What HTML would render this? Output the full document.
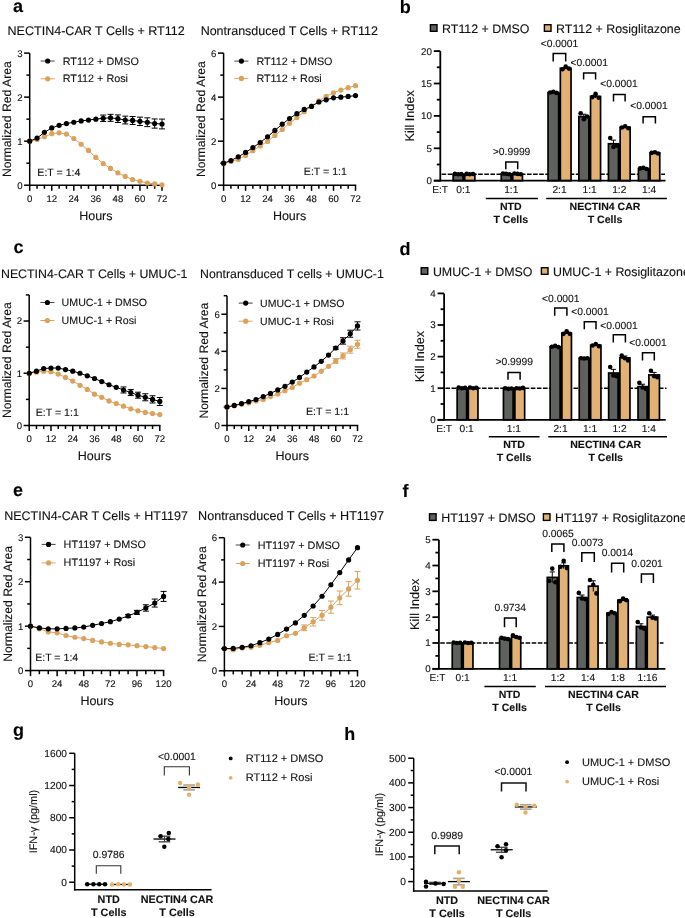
<!DOCTYPE html>
<html><head><meta charset="utf-8"><style>
html,body{margin:0;padding:0;background:#fff;}
svg{display:block;font-family:"Liberation Sans",sans-serif;text-rendering:geometricPrecision;}
text{stroke:#111;stroke-width:0.12px;paint-order:stroke;}
.l{will-change:transform;}
</style></head><body>
<svg class="l" width="685" height="918" viewBox="0 0 685 918">
<rect width="685" height="918" fill="#fff"/>
<text x="13" y="11.8" font-size="18" text-anchor="start" font-weight="bold" fill="#000">a</text>
<text x="399.8" y="13.4" font-size="18" text-anchor="start" font-weight="bold" fill="#000">b</text>
<text x="13.4" y="253.3" font-size="18" text-anchor="start" font-weight="bold" fill="#000">c</text>
<text x="399.6" y="254.8" font-size="18" text-anchor="start" font-weight="bold" fill="#000">d</text>
<text x="12.9" y="495.5" font-size="18" text-anchor="start" font-weight="bold" fill="#000">e</text>
<text x="402.6" y="497.2" font-size="18" text-anchor="start" font-weight="bold" fill="#000">f</text>
<text x="13" y="736" font-size="18" text-anchor="start" font-weight="bold" fill="#000">g</text>
<text x="344.3" y="740.1" font-size="18" text-anchor="start" font-weight="bold" fill="#000">h</text>
<text x="96.1" y="35" font-size="12.55" text-anchor="middle" fill="#111">NECTIN4-CAR T Cells + RT112</text>
<line x1="29.7" y1="53.1" x2="29.7" y2="185.95" stroke="#000" stroke-width="1.5"/>
<line x1="28.95" y1="185.2" x2="162.75" y2="185.2" stroke="#000" stroke-width="1.5"/>
<line x1="24.1" y1="185.2" x2="29.7" y2="185.2" stroke="#000" stroke-width="1.5"/>
<text x="22.5" y="188.6" font-size="9.6" text-anchor="end" fill="#111">0</text>
<line x1="26.4" y1="163.18" x2="29.7" y2="163.18" stroke="#000" stroke-width="1.5"/>
<line x1="24.1" y1="141.17" x2="29.7" y2="141.17" stroke="#000" stroke-width="1.5"/>
<text x="22.5" y="144.57" font-size="9.6" text-anchor="end" fill="#111">1</text>
<line x1="26.4" y1="119.15" x2="29.7" y2="119.15" stroke="#000" stroke-width="1.5"/>
<line x1="24.1" y1="97.13" x2="29.7" y2="97.13" stroke="#000" stroke-width="1.5"/>
<text x="22.5" y="100.53" font-size="9.6" text-anchor="end" fill="#111">2</text>
<line x1="26.4" y1="75.12" x2="29.7" y2="75.12" stroke="#000" stroke-width="1.5"/>
<line x1="24.1" y1="53.1" x2="29.7" y2="53.1" stroke="#000" stroke-width="1.5"/>
<text x="22.5" y="56.5" font-size="9.6" text-anchor="end" fill="#111">3</text>
<line x1="29.7" y1="185.2" x2="29.7" y2="190.8" stroke="#000" stroke-width="1.5"/>
<text x="29.7" y="201.8" font-size="9.6" text-anchor="middle" fill="#111">0</text>
<line x1="37.05" y1="185.2" x2="37.05" y2="188.8" stroke="#000" stroke-width="1.5"/>
<line x1="44.4" y1="185.2" x2="44.4" y2="188.8" stroke="#000" stroke-width="1.5"/>
<line x1="51.75" y1="185.2" x2="51.75" y2="190.8" stroke="#000" stroke-width="1.5"/>
<text x="51.75" y="201.8" font-size="9.6" text-anchor="middle" fill="#111">12</text>
<line x1="59.1" y1="185.2" x2="59.1" y2="188.8" stroke="#000" stroke-width="1.5"/>
<line x1="66.45" y1="185.2" x2="66.45" y2="188.8" stroke="#000" stroke-width="1.5"/>
<line x1="73.8" y1="185.2" x2="73.8" y2="190.8" stroke="#000" stroke-width="1.5"/>
<text x="73.8" y="201.8" font-size="9.6" text-anchor="middle" fill="#111">24</text>
<line x1="81.15" y1="185.2" x2="81.15" y2="188.8" stroke="#000" stroke-width="1.5"/>
<line x1="88.5" y1="185.2" x2="88.5" y2="188.8" stroke="#000" stroke-width="1.5"/>
<line x1="95.85" y1="185.2" x2="95.85" y2="190.8" stroke="#000" stroke-width="1.5"/>
<text x="95.85" y="201.8" font-size="9.6" text-anchor="middle" fill="#111">36</text>
<line x1="103.2" y1="185.2" x2="103.2" y2="188.8" stroke="#000" stroke-width="1.5"/>
<line x1="110.55" y1="185.2" x2="110.55" y2="188.8" stroke="#000" stroke-width="1.5"/>
<line x1="117.9" y1="185.2" x2="117.9" y2="190.8" stroke="#000" stroke-width="1.5"/>
<text x="117.9" y="201.8" font-size="9.6" text-anchor="middle" fill="#111">48</text>
<line x1="125.25" y1="185.2" x2="125.25" y2="188.8" stroke="#000" stroke-width="1.5"/>
<line x1="132.6" y1="185.2" x2="132.6" y2="188.8" stroke="#000" stroke-width="1.5"/>
<line x1="139.95" y1="185.2" x2="139.95" y2="190.8" stroke="#000" stroke-width="1.5"/>
<text x="139.95" y="201.8" font-size="9.6" text-anchor="middle" fill="#111">60</text>
<line x1="147.3" y1="185.2" x2="147.3" y2="188.8" stroke="#000" stroke-width="1.5"/>
<line x1="154.65" y1="185.2" x2="154.65" y2="188.8" stroke="#000" stroke-width="1.5"/>
<line x1="162" y1="185.2" x2="162" y2="190.8" stroke="#000" stroke-width="1.5"/>
<text x="162" y="201.8" font-size="9.6" text-anchor="middle" fill="#111">72</text>
<text transform="translate(10.9,119.15) rotate(-90)" font-size="12.2" text-anchor="middle" fill="#111">Normalized Red Area</text>
<text x="95.85" y="219.7" font-size="12.5" text-anchor="middle" fill="#111">Hours</text>
<text x="58.9" y="176.1" font-size="10.6" text-anchor="middle" fill="#111">E:T = 1:4</text>
<line x1="40.7" y1="61" x2="54.7" y2="61" stroke="#444" stroke-width="1"/>
<circle cx="47.7" cy="61" r="2.6" fill="#000"/>
<line x1="40.7" y1="78.8" x2="54.7" y2="78.8" stroke="#DCA15D" stroke-width="1"/>
<circle cx="47.7" cy="78.8" r="2.6" fill="#DCA15D"/>
<text x="62.7" y="64.7" font-size="10.8" text-anchor="start" fill="#111">RT112 + DMSO</text>
<text x="62.7" y="82.2" font-size="10.8" text-anchor="start" fill="#111">RT112 + Rosi</text>
<polyline fill="none" stroke="#DCA15D" stroke-width="1" points="29.7,141.17 37.05,139.41 44.4,136.76 51.75,133.68 59.1,132.8 66.45,134.12 73.8,138.52 81.15,144.25 88.5,150.41 95.85,157.46 103.2,163.62 110.55,168.47 117.9,172.87 125.25,176.39 132.6,179.48 139.95,181.24 147.3,183 154.65,183.88 162,184.76"/>
<circle cx="29.7" cy="141.17" r="2.6" fill="#DCA15D"/>
<circle cx="37.05" cy="139.41" r="2.6" fill="#DCA15D"/>
<circle cx="44.4" cy="136.76" r="2.6" fill="#DCA15D"/>
<circle cx="51.75" cy="133.68" r="2.6" fill="#DCA15D"/>
<circle cx="59.1" cy="132.8" r="2.6" fill="#DCA15D"/>
<circle cx="66.45" cy="134.12" r="2.6" fill="#DCA15D"/>
<circle cx="73.8" cy="138.52" r="2.6" fill="#DCA15D"/>
<circle cx="81.15" cy="144.25" r="2.6" fill="#DCA15D"/>
<circle cx="88.5" cy="150.41" r="2.6" fill="#DCA15D"/>
<circle cx="95.85" cy="157.46" r="2.6" fill="#DCA15D"/>
<circle cx="103.2" cy="163.62" r="2.6" fill="#DCA15D"/>
<circle cx="110.55" cy="168.47" r="2.6" fill="#DCA15D"/>
<circle cx="117.9" cy="172.87" r="2.6" fill="#DCA15D"/>
<circle cx="125.25" cy="176.39" r="2.6" fill="#DCA15D"/>
<circle cx="132.6" cy="179.48" r="2.6" fill="#DCA15D"/>
<circle cx="139.95" cy="181.24" r="2.6" fill="#DCA15D"/>
<circle cx="147.3" cy="183" r="2.6" fill="#DCA15D"/>
<circle cx="154.65" cy="183.88" r="2.6" fill="#DCA15D"/>
<circle cx="162" cy="184.76" r="2.6" fill="#DCA15D"/>
<polyline fill="none" stroke="#000" stroke-width="1" points="29.7,141.17 37.05,138.08 44.4,132.36 51.75,127.96 59.1,125.31 66.45,123.55 73.8,122.23 81.15,120.91 88.5,120.03 95.85,119.15 103.2,118.27 110.55,117.83 117.9,118.71 125.25,120.03 132.6,120.47 139.95,121.35 147.3,122.23 154.65,123.55 162,123.99"/>
<line x1="103.2" y1="115.07" x2="103.2" y2="121.47" stroke="#000" stroke-width="1"/>
<line x1="100.2" y1="115.07" x2="106.2" y2="115.07" stroke="#000" stroke-width="1"/>
<line x1="100.2" y1="121.47" x2="106.2" y2="121.47" stroke="#000" stroke-width="1"/>
<line x1="110.55" y1="114.33" x2="110.55" y2="121.33" stroke="#000" stroke-width="1"/>
<line x1="107.55" y1="114.33" x2="113.55" y2="114.33" stroke="#000" stroke-width="1"/>
<line x1="107.55" y1="121.33" x2="113.55" y2="121.33" stroke="#000" stroke-width="1"/>
<line x1="117.9" y1="114.91" x2="117.9" y2="122.51" stroke="#000" stroke-width="1"/>
<line x1="114.9" y1="114.91" x2="120.9" y2="114.91" stroke="#000" stroke-width="1"/>
<line x1="114.9" y1="122.51" x2="120.9" y2="122.51" stroke="#000" stroke-width="1"/>
<line x1="125.25" y1="116.13" x2="125.25" y2="123.93" stroke="#000" stroke-width="1"/>
<line x1="122.25" y1="116.13" x2="128.25" y2="116.13" stroke="#000" stroke-width="1"/>
<line x1="122.25" y1="123.93" x2="128.25" y2="123.93" stroke="#000" stroke-width="1"/>
<line x1="132.6" y1="116.47" x2="132.6" y2="124.47" stroke="#000" stroke-width="1"/>
<line x1="129.6" y1="116.47" x2="135.6" y2="116.47" stroke="#000" stroke-width="1"/>
<line x1="129.6" y1="124.47" x2="135.6" y2="124.47" stroke="#000" stroke-width="1"/>
<line x1="139.95" y1="117.15" x2="139.95" y2="125.55" stroke="#000" stroke-width="1"/>
<line x1="136.95" y1="117.15" x2="142.95" y2="117.15" stroke="#000" stroke-width="1"/>
<line x1="136.95" y1="125.55" x2="142.95" y2="125.55" stroke="#000" stroke-width="1"/>
<line x1="147.3" y1="117.83" x2="147.3" y2="126.63" stroke="#000" stroke-width="1"/>
<line x1="144.3" y1="117.83" x2="150.3" y2="117.83" stroke="#000" stroke-width="1"/>
<line x1="144.3" y1="126.63" x2="150.3" y2="126.63" stroke="#000" stroke-width="1"/>
<line x1="154.65" y1="118.95" x2="154.65" y2="128.15" stroke="#000" stroke-width="1"/>
<line x1="151.65" y1="118.95" x2="157.65" y2="118.95" stroke="#000" stroke-width="1"/>
<line x1="151.65" y1="128.15" x2="157.65" y2="128.15" stroke="#000" stroke-width="1"/>
<line x1="162" y1="119.09" x2="162" y2="128.89" stroke="#000" stroke-width="1"/>
<line x1="159" y1="119.09" x2="165" y2="119.09" stroke="#000" stroke-width="1"/>
<line x1="159" y1="128.89" x2="165" y2="128.89" stroke="#000" stroke-width="1"/>
<circle cx="29.7" cy="141.17" r="2.6" fill="#000"/>
<circle cx="37.05" cy="138.08" r="2.6" fill="#000"/>
<circle cx="44.4" cy="132.36" r="2.6" fill="#000"/>
<circle cx="51.75" cy="127.96" r="2.6" fill="#000"/>
<circle cx="59.1" cy="125.31" r="2.6" fill="#000"/>
<circle cx="66.45" cy="123.55" r="2.6" fill="#000"/>
<circle cx="73.8" cy="122.23" r="2.6" fill="#000"/>
<circle cx="81.15" cy="120.91" r="2.6" fill="#000"/>
<circle cx="88.5" cy="120.03" r="2.6" fill="#000"/>
<circle cx="95.85" cy="119.15" r="2.6" fill="#000"/>
<circle cx="103.2" cy="118.27" r="2.6" fill="#000"/>
<circle cx="110.55" cy="117.83" r="2.6" fill="#000"/>
<circle cx="117.9" cy="118.71" r="2.6" fill="#000"/>
<circle cx="125.25" cy="120.03" r="2.6" fill="#000"/>
<circle cx="132.6" cy="120.47" r="2.6" fill="#000"/>
<circle cx="139.95" cy="121.35" r="2.6" fill="#000"/>
<circle cx="147.3" cy="122.23" r="2.6" fill="#000"/>
<circle cx="154.65" cy="123.55" r="2.6" fill="#000"/>
<circle cx="162" cy="123.99" r="2.6" fill="#000"/>
<text x="289.3" y="35" font-size="12.5" text-anchor="middle" fill="#111">Nontransduced T Cells + RT112</text>
<line x1="223.6" y1="53.1" x2="223.6" y2="185.95" stroke="#000" stroke-width="1.5"/>
<line x1="222.85" y1="185.2" x2="356.25" y2="185.2" stroke="#000" stroke-width="1.5"/>
<line x1="218" y1="185.2" x2="223.6" y2="185.2" stroke="#000" stroke-width="1.5"/>
<text x="216.4" y="188.6" font-size="9.6" text-anchor="end" fill="#111">0</text>
<line x1="220.3" y1="163.18" x2="223.6" y2="163.18" stroke="#000" stroke-width="1.5"/>
<line x1="218" y1="141.17" x2="223.6" y2="141.17" stroke="#000" stroke-width="1.5"/>
<text x="216.4" y="144.57" font-size="9.6" text-anchor="end" fill="#111">2</text>
<line x1="220.3" y1="119.15" x2="223.6" y2="119.15" stroke="#000" stroke-width="1.5"/>
<line x1="218" y1="97.13" x2="223.6" y2="97.13" stroke="#000" stroke-width="1.5"/>
<text x="216.4" y="100.53" font-size="9.6" text-anchor="end" fill="#111">4</text>
<line x1="220.3" y1="75.12" x2="223.6" y2="75.12" stroke="#000" stroke-width="1.5"/>
<line x1="218" y1="53.1" x2="223.6" y2="53.1" stroke="#000" stroke-width="1.5"/>
<text x="216.4" y="56.5" font-size="9.6" text-anchor="end" fill="#111">6</text>
<line x1="223.6" y1="185.2" x2="223.6" y2="190.8" stroke="#000" stroke-width="1.5"/>
<text x="223.6" y="201.8" font-size="9.6" text-anchor="middle" fill="#111">0</text>
<line x1="230.93" y1="185.2" x2="230.93" y2="188.8" stroke="#000" stroke-width="1.5"/>
<line x1="238.26" y1="185.2" x2="238.26" y2="188.8" stroke="#000" stroke-width="1.5"/>
<line x1="245.58" y1="185.2" x2="245.58" y2="190.8" stroke="#000" stroke-width="1.5"/>
<text x="245.58" y="201.8" font-size="9.6" text-anchor="middle" fill="#111">12</text>
<line x1="252.91" y1="185.2" x2="252.91" y2="188.8" stroke="#000" stroke-width="1.5"/>
<line x1="260.24" y1="185.2" x2="260.24" y2="188.8" stroke="#000" stroke-width="1.5"/>
<line x1="267.57" y1="185.2" x2="267.57" y2="190.8" stroke="#000" stroke-width="1.5"/>
<text x="267.57" y="201.8" font-size="9.6" text-anchor="middle" fill="#111">24</text>
<line x1="274.89" y1="185.2" x2="274.89" y2="188.8" stroke="#000" stroke-width="1.5"/>
<line x1="282.22" y1="185.2" x2="282.22" y2="188.8" stroke="#000" stroke-width="1.5"/>
<line x1="289.55" y1="185.2" x2="289.55" y2="190.8" stroke="#000" stroke-width="1.5"/>
<text x="289.55" y="201.8" font-size="9.6" text-anchor="middle" fill="#111">36</text>
<line x1="296.88" y1="185.2" x2="296.88" y2="188.8" stroke="#000" stroke-width="1.5"/>
<line x1="304.21" y1="185.2" x2="304.21" y2="188.8" stroke="#000" stroke-width="1.5"/>
<line x1="311.53" y1="185.2" x2="311.53" y2="190.8" stroke="#000" stroke-width="1.5"/>
<text x="311.53" y="201.8" font-size="9.6" text-anchor="middle" fill="#111">48</text>
<line x1="318.86" y1="185.2" x2="318.86" y2="188.8" stroke="#000" stroke-width="1.5"/>
<line x1="326.19" y1="185.2" x2="326.19" y2="188.8" stroke="#000" stroke-width="1.5"/>
<line x1="333.52" y1="185.2" x2="333.52" y2="190.8" stroke="#000" stroke-width="1.5"/>
<text x="333.52" y="201.8" font-size="9.6" text-anchor="middle" fill="#111">60</text>
<line x1="340.84" y1="185.2" x2="340.84" y2="188.8" stroke="#000" stroke-width="1.5"/>
<line x1="348.17" y1="185.2" x2="348.17" y2="188.8" stroke="#000" stroke-width="1.5"/>
<line x1="355.5" y1="185.2" x2="355.5" y2="190.8" stroke="#000" stroke-width="1.5"/>
<text x="355.5" y="201.8" font-size="9.6" text-anchor="middle" fill="#111">72</text>
<text transform="translate(204.6,119.15) rotate(-90)" font-size="12.2" text-anchor="middle" fill="#111">Normalized Red Area</text>
<text x="289.55" y="219.7" font-size="12.5" text-anchor="middle" fill="#111">Hours</text>
<text x="325.4" y="175.3" font-size="10.6" text-anchor="middle" fill="#111">E:T = 1:1</text>
<line x1="234.4" y1="61.1" x2="248.4" y2="61.1" stroke="#444" stroke-width="1"/>
<circle cx="241.4" cy="61.1" r="2.6" fill="#000"/>
<line x1="234.4" y1="78.4" x2="248.4" y2="78.4" stroke="#DCA15D" stroke-width="1"/>
<circle cx="241.4" cy="78.4" r="2.6" fill="#DCA15D"/>
<text x="256.4" y="64.8" font-size="10.8" text-anchor="start" fill="#111">RT112 + DMSO</text>
<text x="256.4" y="81.8" font-size="10.8" text-anchor="start" fill="#111">RT112 + Rosi</text>
<polyline fill="none" stroke="#DCA15D" stroke-width="1" points="223.6,163.18 230.93,161.42 238.26,159.44 245.58,155.48 252.91,150.63 260.24,146.01 267.57,141.39 274.89,135.44 282.22,129.5 289.55,123.33 296.88,117.61 304.21,111.66 311.53,106.16 318.86,100.88 326.19,96.25 333.52,92.73 340.84,90.09 348.17,87.67 355.5,85.68"/>
<circle cx="223.6" cy="163.18" r="2.6" fill="#DCA15D"/>
<circle cx="230.93" cy="161.42" r="2.6" fill="#DCA15D"/>
<circle cx="238.26" cy="159.44" r="2.6" fill="#DCA15D"/>
<circle cx="245.58" cy="155.48" r="2.6" fill="#DCA15D"/>
<circle cx="252.91" cy="150.63" r="2.6" fill="#DCA15D"/>
<circle cx="260.24" cy="146.01" r="2.6" fill="#DCA15D"/>
<circle cx="267.57" cy="141.39" r="2.6" fill="#DCA15D"/>
<circle cx="274.89" cy="135.44" r="2.6" fill="#DCA15D"/>
<circle cx="282.22" cy="129.5" r="2.6" fill="#DCA15D"/>
<circle cx="289.55" cy="123.33" r="2.6" fill="#DCA15D"/>
<circle cx="296.88" cy="117.61" r="2.6" fill="#DCA15D"/>
<circle cx="304.21" cy="111.66" r="2.6" fill="#DCA15D"/>
<circle cx="311.53" cy="106.16" r="2.6" fill="#DCA15D"/>
<circle cx="318.86" cy="100.88" r="2.6" fill="#DCA15D"/>
<circle cx="326.19" cy="96.25" r="2.6" fill="#DCA15D"/>
<circle cx="333.52" cy="92.73" r="2.6" fill="#DCA15D"/>
<circle cx="340.84" cy="90.09" r="2.6" fill="#DCA15D"/>
<circle cx="348.17" cy="87.67" r="2.6" fill="#DCA15D"/>
<circle cx="355.5" cy="85.68" r="2.6" fill="#DCA15D"/>
<polyline fill="none" stroke="#000" stroke-width="1" points="223.6,163.18 230.93,160.54 238.26,156.8 245.58,152.4 252.91,147.55 260.24,142.49 267.57,136.76 274.89,130.38 282.22,124.21 289.55,118.49 296.88,113.65 304.21,109.46 311.53,106.38 318.86,101.98 326.19,99.78 333.52,97.79 340.84,97.13 348.17,96.47 355.5,95.59"/>
<circle cx="223.6" cy="163.18" r="2.6" fill="#000"/>
<circle cx="230.93" cy="160.54" r="2.6" fill="#000"/>
<circle cx="238.26" cy="156.8" r="2.6" fill="#000"/>
<circle cx="245.58" cy="152.4" r="2.6" fill="#000"/>
<circle cx="252.91" cy="147.55" r="2.6" fill="#000"/>
<circle cx="260.24" cy="142.49" r="2.6" fill="#000"/>
<circle cx="267.57" cy="136.76" r="2.6" fill="#000"/>
<circle cx="274.89" cy="130.38" r="2.6" fill="#000"/>
<circle cx="282.22" cy="124.21" r="2.6" fill="#000"/>
<circle cx="289.55" cy="118.49" r="2.6" fill="#000"/>
<circle cx="296.88" cy="113.65" r="2.6" fill="#000"/>
<circle cx="304.21" cy="109.46" r="2.6" fill="#000"/>
<circle cx="311.53" cy="106.38" r="2.6" fill="#000"/>
<circle cx="318.86" cy="101.98" r="2.6" fill="#000"/>
<circle cx="326.19" cy="99.78" r="2.6" fill="#000"/>
<circle cx="333.52" cy="97.79" r="2.6" fill="#000"/>
<circle cx="340.84" cy="97.13" r="2.6" fill="#000"/>
<circle cx="348.17" cy="96.47" r="2.6" fill="#000"/>
<circle cx="355.5" cy="95.59" r="2.6" fill="#000"/>
<text x="94.2" y="277.9" font-size="12.35" text-anchor="middle" fill="#111">NECTIN4-CAR T Cells + UMUC-1</text>
<line x1="29.2" y1="294.9" x2="29.2" y2="426.25" stroke="#000" stroke-width="1.5"/>
<line x1="28.45" y1="425.5" x2="160.55" y2="425.5" stroke="#000" stroke-width="1.5"/>
<line x1="23.6" y1="425.5" x2="29.2" y2="425.5" stroke="#000" stroke-width="1.5"/>
<text x="22" y="428.9" font-size="9.6" text-anchor="end" fill="#111">0</text>
<line x1="25.9" y1="399.38" x2="29.2" y2="399.38" stroke="#000" stroke-width="1.5"/>
<line x1="23.6" y1="373.26" x2="29.2" y2="373.26" stroke="#000" stroke-width="1.5"/>
<text x="22" y="376.66" font-size="9.6" text-anchor="end" fill="#111">1</text>
<line x1="25.9" y1="347.14" x2="29.2" y2="347.14" stroke="#000" stroke-width="1.5"/>
<line x1="23.6" y1="321.02" x2="29.2" y2="321.02" stroke="#000" stroke-width="1.5"/>
<text x="22" y="324.42" font-size="9.6" text-anchor="end" fill="#111">2</text>
<line x1="25.9" y1="294.9" x2="29.2" y2="294.9" stroke="#000" stroke-width="1.5"/>
<line x1="29.2" y1="425.5" x2="29.2" y2="431.1" stroke="#000" stroke-width="1.5"/>
<text x="29.2" y="442.1" font-size="9.6" text-anchor="middle" fill="#111">0</text>
<line x1="36.46" y1="425.5" x2="36.46" y2="429.1" stroke="#000" stroke-width="1.5"/>
<line x1="43.71" y1="425.5" x2="43.71" y2="429.1" stroke="#000" stroke-width="1.5"/>
<line x1="50.97" y1="425.5" x2="50.97" y2="431.1" stroke="#000" stroke-width="1.5"/>
<text x="50.97" y="442.1" font-size="9.6" text-anchor="middle" fill="#111">12</text>
<line x1="58.22" y1="425.5" x2="58.22" y2="429.1" stroke="#000" stroke-width="1.5"/>
<line x1="65.48" y1="425.5" x2="65.48" y2="429.1" stroke="#000" stroke-width="1.5"/>
<line x1="72.73" y1="425.5" x2="72.73" y2="431.1" stroke="#000" stroke-width="1.5"/>
<text x="72.73" y="442.1" font-size="9.6" text-anchor="middle" fill="#111">24</text>
<line x1="79.99" y1="425.5" x2="79.99" y2="429.1" stroke="#000" stroke-width="1.5"/>
<line x1="87.24" y1="425.5" x2="87.24" y2="429.1" stroke="#000" stroke-width="1.5"/>
<line x1="94.5" y1="425.5" x2="94.5" y2="431.1" stroke="#000" stroke-width="1.5"/>
<text x="94.5" y="442.1" font-size="9.6" text-anchor="middle" fill="#111">36</text>
<line x1="101.76" y1="425.5" x2="101.76" y2="429.1" stroke="#000" stroke-width="1.5"/>
<line x1="109.01" y1="425.5" x2="109.01" y2="429.1" stroke="#000" stroke-width="1.5"/>
<line x1="116.27" y1="425.5" x2="116.27" y2="431.1" stroke="#000" stroke-width="1.5"/>
<text x="116.27" y="442.1" font-size="9.6" text-anchor="middle" fill="#111">48</text>
<line x1="123.52" y1="425.5" x2="123.52" y2="429.1" stroke="#000" stroke-width="1.5"/>
<line x1="130.78" y1="425.5" x2="130.78" y2="429.1" stroke="#000" stroke-width="1.5"/>
<line x1="138.03" y1="425.5" x2="138.03" y2="431.1" stroke="#000" stroke-width="1.5"/>
<text x="138.03" y="442.1" font-size="9.6" text-anchor="middle" fill="#111">60</text>
<line x1="145.29" y1="425.5" x2="145.29" y2="429.1" stroke="#000" stroke-width="1.5"/>
<line x1="152.54" y1="425.5" x2="152.54" y2="429.1" stroke="#000" stroke-width="1.5"/>
<line x1="159.8" y1="425.5" x2="159.8" y2="431.1" stroke="#000" stroke-width="1.5"/>
<text x="159.8" y="442.1" font-size="9.6" text-anchor="middle" fill="#111">72</text>
<text transform="translate(10.9,360.2) rotate(-90)" font-size="12.2" text-anchor="middle" fill="#111">Normalized Red Area</text>
<text x="94.5" y="460" font-size="12.5" text-anchor="middle" fill="#111">Hours</text>
<text x="57.3" y="415.8" font-size="10.6" text-anchor="middle" fill="#111">E:T = 1:1</text>
<line x1="40.4" y1="302.5" x2="54.4" y2="302.5" stroke="#444" stroke-width="1"/>
<circle cx="47.4" cy="302.5" r="2.6" fill="#000"/>
<line x1="40.4" y1="320.5" x2="54.4" y2="320.5" stroke="#DCA15D" stroke-width="1"/>
<circle cx="47.4" cy="320.5" r="2.6" fill="#DCA15D"/>
<text x="61.6" y="306.2" font-size="10.65" text-anchor="start" fill="#111">UMUC-1 + DMSO</text>
<text x="61.6" y="323.9" font-size="10.65" text-anchor="start" fill="#111">UMUC-1 + Rosi</text>
<polyline fill="none" stroke="#DCA15D" stroke-width="1" points="29.2,373.26 36.46,372.22 43.71,371.17 50.97,371.69 58.22,374.04 65.48,377.44 72.73,381.1 79.99,385.28 87.24,389.45 94.5,394.16 101.76,397.29 109.01,400.95 116.27,403.56 123.52,406.17 130.78,408.78 138.03,410.87 145.29,412.44 152.54,413.48 159.8,414.53"/>
<circle cx="29.2" cy="373.26" r="2.6" fill="#DCA15D"/>
<circle cx="36.46" cy="372.22" r="2.6" fill="#DCA15D"/>
<circle cx="43.71" cy="371.17" r="2.6" fill="#DCA15D"/>
<circle cx="50.97" cy="371.69" r="2.6" fill="#DCA15D"/>
<circle cx="58.22" cy="374.04" r="2.6" fill="#DCA15D"/>
<circle cx="65.48" cy="377.44" r="2.6" fill="#DCA15D"/>
<circle cx="72.73" cy="381.1" r="2.6" fill="#DCA15D"/>
<circle cx="79.99" cy="385.28" r="2.6" fill="#DCA15D"/>
<circle cx="87.24" cy="389.45" r="2.6" fill="#DCA15D"/>
<circle cx="94.5" cy="394.16" r="2.6" fill="#DCA15D"/>
<circle cx="101.76" cy="397.29" r="2.6" fill="#DCA15D"/>
<circle cx="109.01" cy="400.95" r="2.6" fill="#DCA15D"/>
<circle cx="116.27" cy="403.56" r="2.6" fill="#DCA15D"/>
<circle cx="123.52" cy="406.17" r="2.6" fill="#DCA15D"/>
<circle cx="130.78" cy="408.78" r="2.6" fill="#DCA15D"/>
<circle cx="138.03" cy="410.87" r="2.6" fill="#DCA15D"/>
<circle cx="145.29" cy="412.44" r="2.6" fill="#DCA15D"/>
<circle cx="152.54" cy="413.48" r="2.6" fill="#DCA15D"/>
<circle cx="159.8" cy="414.53" r="2.6" fill="#DCA15D"/>
<polyline fill="none" stroke="#000" stroke-width="1" points="29.2,373.26 36.46,371.17 43.71,368.56 50.97,368.04 58.22,368.04 65.48,369.6 72.73,371.17 79.99,373.26 87.24,375.87 94.5,378.48 101.76,381.62 109.01,384.75 116.27,387.36 123.52,389.98 130.78,392.59 138.03,395.2 145.29,397.29 152.54,399.38 159.8,401.47"/>
<line x1="123.52" y1="386.98" x2="123.52" y2="392.98" stroke="#000" stroke-width="1"/>
<line x1="120.52" y1="386.98" x2="126.52" y2="386.98" stroke="#000" stroke-width="1"/>
<line x1="120.52" y1="392.98" x2="126.52" y2="392.98" stroke="#000" stroke-width="1"/>
<line x1="130.78" y1="389.59" x2="130.78" y2="395.59" stroke="#000" stroke-width="1"/>
<line x1="127.78" y1="389.59" x2="133.78" y2="389.59" stroke="#000" stroke-width="1"/>
<line x1="127.78" y1="395.59" x2="133.78" y2="395.59" stroke="#000" stroke-width="1"/>
<line x1="138.03" y1="392.2" x2="138.03" y2="398.2" stroke="#000" stroke-width="1"/>
<line x1="135.03" y1="392.2" x2="141.03" y2="392.2" stroke="#000" stroke-width="1"/>
<line x1="135.03" y1="398.2" x2="141.03" y2="398.2" stroke="#000" stroke-width="1"/>
<line x1="145.29" y1="393.79" x2="145.29" y2="400.79" stroke="#000" stroke-width="1"/>
<line x1="142.29" y1="393.79" x2="148.29" y2="393.79" stroke="#000" stroke-width="1"/>
<line x1="142.29" y1="400.79" x2="148.29" y2="400.79" stroke="#000" stroke-width="1"/>
<line x1="152.54" y1="395.78" x2="152.54" y2="402.98" stroke="#000" stroke-width="1"/>
<line x1="149.54" y1="395.78" x2="155.54" y2="395.78" stroke="#000" stroke-width="1"/>
<line x1="149.54" y1="402.98" x2="155.54" y2="402.98" stroke="#000" stroke-width="1"/>
<line x1="159.8" y1="397.47" x2="159.8" y2="405.47" stroke="#000" stroke-width="1"/>
<line x1="156.8" y1="397.47" x2="162.8" y2="397.47" stroke="#000" stroke-width="1"/>
<line x1="156.8" y1="405.47" x2="162.8" y2="405.47" stroke="#000" stroke-width="1"/>
<circle cx="29.2" cy="373.26" r="2.6" fill="#000"/>
<circle cx="36.46" cy="371.17" r="2.6" fill="#000"/>
<circle cx="43.71" cy="368.56" r="2.6" fill="#000"/>
<circle cx="50.97" cy="368.04" r="2.6" fill="#000"/>
<circle cx="58.22" cy="368.04" r="2.6" fill="#000"/>
<circle cx="65.48" cy="369.6" r="2.6" fill="#000"/>
<circle cx="72.73" cy="371.17" r="2.6" fill="#000"/>
<circle cx="79.99" cy="373.26" r="2.6" fill="#000"/>
<circle cx="87.24" cy="375.87" r="2.6" fill="#000"/>
<circle cx="94.5" cy="378.48" r="2.6" fill="#000"/>
<circle cx="101.76" cy="381.62" r="2.6" fill="#000"/>
<circle cx="109.01" cy="384.75" r="2.6" fill="#000"/>
<circle cx="116.27" cy="387.36" r="2.6" fill="#000"/>
<circle cx="123.52" cy="389.98" r="2.6" fill="#000"/>
<circle cx="130.78" cy="392.59" r="2.6" fill="#000"/>
<circle cx="138.03" cy="395.2" r="2.6" fill="#000"/>
<circle cx="145.29" cy="397.29" r="2.6" fill="#000"/>
<circle cx="152.54" cy="399.38" r="2.6" fill="#000"/>
<circle cx="159.8" cy="401.47" r="2.6" fill="#000"/>
<text x="291.9" y="277.9" font-size="12.3" text-anchor="middle" fill="#111">Nontransduced T cells + UMUC-1</text>
<line x1="227" y1="295.7" x2="227" y2="426.25" stroke="#000" stroke-width="1.5"/>
<line x1="226.25" y1="425.5" x2="358.25" y2="425.5" stroke="#000" stroke-width="1.5"/>
<line x1="221.4" y1="425.5" x2="227" y2="425.5" stroke="#000" stroke-width="1.5"/>
<text x="219.8" y="428.9" font-size="9.6" text-anchor="end" fill="#111">0</text>
<line x1="223.7" y1="406.96" x2="227" y2="406.96" stroke="#000" stroke-width="1.5"/>
<line x1="221.4" y1="388.41" x2="227" y2="388.41" stroke="#000" stroke-width="1.5"/>
<text x="219.8" y="391.81" font-size="9.6" text-anchor="end" fill="#111">2</text>
<line x1="223.7" y1="369.87" x2="227" y2="369.87" stroke="#000" stroke-width="1.5"/>
<line x1="221.4" y1="351.33" x2="227" y2="351.33" stroke="#000" stroke-width="1.5"/>
<text x="219.8" y="354.73" font-size="9.6" text-anchor="end" fill="#111">4</text>
<line x1="223.7" y1="332.79" x2="227" y2="332.79" stroke="#000" stroke-width="1.5"/>
<line x1="221.4" y1="314.24" x2="227" y2="314.24" stroke="#000" stroke-width="1.5"/>
<text x="219.8" y="317.64" font-size="9.6" text-anchor="end" fill="#111">6</text>
<line x1="223.7" y1="295.7" x2="227" y2="295.7" stroke="#000" stroke-width="1.5"/>
<line x1="227" y1="425.5" x2="227" y2="431.1" stroke="#000" stroke-width="1.5"/>
<text x="227" y="442.1" font-size="9.6" text-anchor="middle" fill="#111">0</text>
<line x1="234.25" y1="425.5" x2="234.25" y2="429.1" stroke="#000" stroke-width="1.5"/>
<line x1="241.5" y1="425.5" x2="241.5" y2="429.1" stroke="#000" stroke-width="1.5"/>
<line x1="248.75" y1="425.5" x2="248.75" y2="431.1" stroke="#000" stroke-width="1.5"/>
<text x="248.75" y="442.1" font-size="9.6" text-anchor="middle" fill="#111">12</text>
<line x1="256" y1="425.5" x2="256" y2="429.1" stroke="#000" stroke-width="1.5"/>
<line x1="263.25" y1="425.5" x2="263.25" y2="429.1" stroke="#000" stroke-width="1.5"/>
<line x1="270.5" y1="425.5" x2="270.5" y2="431.1" stroke="#000" stroke-width="1.5"/>
<text x="270.5" y="442.1" font-size="9.6" text-anchor="middle" fill="#111">24</text>
<line x1="277.75" y1="425.5" x2="277.75" y2="429.1" stroke="#000" stroke-width="1.5"/>
<line x1="285" y1="425.5" x2="285" y2="429.1" stroke="#000" stroke-width="1.5"/>
<line x1="292.25" y1="425.5" x2="292.25" y2="431.1" stroke="#000" stroke-width="1.5"/>
<text x="292.25" y="442.1" font-size="9.6" text-anchor="middle" fill="#111">36</text>
<line x1="299.5" y1="425.5" x2="299.5" y2="429.1" stroke="#000" stroke-width="1.5"/>
<line x1="306.75" y1="425.5" x2="306.75" y2="429.1" stroke="#000" stroke-width="1.5"/>
<line x1="314" y1="425.5" x2="314" y2="431.1" stroke="#000" stroke-width="1.5"/>
<text x="314" y="442.1" font-size="9.6" text-anchor="middle" fill="#111">48</text>
<line x1="321.25" y1="425.5" x2="321.25" y2="429.1" stroke="#000" stroke-width="1.5"/>
<line x1="328.5" y1="425.5" x2="328.5" y2="429.1" stroke="#000" stroke-width="1.5"/>
<line x1="335.75" y1="425.5" x2="335.75" y2="431.1" stroke="#000" stroke-width="1.5"/>
<text x="335.75" y="442.1" font-size="9.6" text-anchor="middle" fill="#111">60</text>
<line x1="343" y1="425.5" x2="343" y2="429.1" stroke="#000" stroke-width="1.5"/>
<line x1="350.25" y1="425.5" x2="350.25" y2="429.1" stroke="#000" stroke-width="1.5"/>
<line x1="357.5" y1="425.5" x2="357.5" y2="431.1" stroke="#000" stroke-width="1.5"/>
<text x="357.5" y="442.1" font-size="9.6" text-anchor="middle" fill="#111">72</text>
<text transform="translate(208.4,360.6) rotate(-90)" font-size="12.2" text-anchor="middle" fill="#111">Normalized Red Area</text>
<text x="292.25" y="460" font-size="12.5" text-anchor="middle" fill="#111">Hours</text>
<text x="327.5" y="415.2" font-size="10.6" text-anchor="middle" fill="#111">E:T = 1:1</text>
<line x1="238.7" y1="303.1" x2="252.7" y2="303.1" stroke="#444" stroke-width="1"/>
<circle cx="245.7" cy="303.1" r="2.6" fill="#000"/>
<line x1="238.7" y1="321.2" x2="252.7" y2="321.2" stroke="#DCA15D" stroke-width="1"/>
<circle cx="245.7" cy="321.2" r="2.6" fill="#DCA15D"/>
<text x="260.1" y="306.8" font-size="10.5" text-anchor="start" fill="#111">UMUC-1 + DMSO</text>
<text x="260.1" y="324.6" font-size="10.5" text-anchor="start" fill="#111">UMUC-1 + Rosi</text>
<polyline fill="none" stroke="#DCA15D" stroke-width="1" points="227,406.96 234.25,405.84 241.5,404.36 248.75,402.88 256,401.02 263.25,399.54 270.5,396.57 277.75,393.98 285,390.64 292.25,387.49 299.5,383.22 306.75,379.7 314,375.99 321.25,371.35 328.5,366.35 335.75,360.97 343,355.96 350.25,349.66 357.5,344.28"/>
<line x1="335.75" y1="358.67" x2="335.75" y2="363.27" stroke="#DCA15D" stroke-width="1"/>
<line x1="332.75" y1="358.67" x2="338.75" y2="358.67" stroke="#DCA15D" stroke-width="1"/>
<line x1="332.75" y1="363.27" x2="338.75" y2="363.27" stroke="#DCA15D" stroke-width="1"/>
<line x1="343" y1="352.96" x2="343" y2="358.96" stroke="#DCA15D" stroke-width="1"/>
<line x1="340" y1="352.96" x2="346" y2="352.96" stroke="#DCA15D" stroke-width="1"/>
<line x1="340" y1="358.96" x2="346" y2="358.96" stroke="#DCA15D" stroke-width="1"/>
<line x1="350.25" y1="346.16" x2="350.25" y2="353.16" stroke="#DCA15D" stroke-width="1"/>
<line x1="347.25" y1="346.16" x2="353.25" y2="346.16" stroke="#DCA15D" stroke-width="1"/>
<line x1="347.25" y1="353.16" x2="353.25" y2="353.16" stroke="#DCA15D" stroke-width="1"/>
<line x1="357.5" y1="340.28" x2="357.5" y2="348.28" stroke="#DCA15D" stroke-width="1"/>
<line x1="354.5" y1="340.28" x2="360.5" y2="340.28" stroke="#DCA15D" stroke-width="1"/>
<line x1="354.5" y1="348.28" x2="360.5" y2="348.28" stroke="#DCA15D" stroke-width="1"/>
<circle cx="227" cy="406.96" r="2.6" fill="#DCA15D"/>
<circle cx="234.25" cy="405.84" r="2.6" fill="#DCA15D"/>
<circle cx="241.5" cy="404.36" r="2.6" fill="#DCA15D"/>
<circle cx="248.75" cy="402.88" r="2.6" fill="#DCA15D"/>
<circle cx="256" cy="401.02" r="2.6" fill="#DCA15D"/>
<circle cx="263.25" cy="399.54" r="2.6" fill="#DCA15D"/>
<circle cx="270.5" cy="396.57" r="2.6" fill="#DCA15D"/>
<circle cx="277.75" cy="393.98" r="2.6" fill="#DCA15D"/>
<circle cx="285" cy="390.64" r="2.6" fill="#DCA15D"/>
<circle cx="292.25" cy="387.49" r="2.6" fill="#DCA15D"/>
<circle cx="299.5" cy="383.22" r="2.6" fill="#DCA15D"/>
<circle cx="306.75" cy="379.7" r="2.6" fill="#DCA15D"/>
<circle cx="314" cy="375.99" r="2.6" fill="#DCA15D"/>
<circle cx="321.25" cy="371.35" r="2.6" fill="#DCA15D"/>
<circle cx="328.5" cy="366.35" r="2.6" fill="#DCA15D"/>
<circle cx="335.75" cy="360.97" r="2.6" fill="#DCA15D"/>
<circle cx="343" cy="355.96" r="2.6" fill="#DCA15D"/>
<circle cx="350.25" cy="349.66" r="2.6" fill="#DCA15D"/>
<circle cx="357.5" cy="344.28" r="2.6" fill="#DCA15D"/>
<polyline fill="none" stroke="#000" stroke-width="1" points="227,406.96 234.25,405.47 241.5,403.62 248.75,401.58 256,399.54 263.25,396.57 270.5,393.42 277.75,389.9 285,386.37 292.25,382.11 299.5,377.47 306.75,372.1 314,366.9 321.25,361.34 328.5,355.04 335.75,347.99 343,340.94 350.25,333.71 357.5,325.92"/>
<line x1="335.75" y1="346.79" x2="335.75" y2="349.19" stroke="#000" stroke-width="1"/>
<line x1="332.75" y1="346.79" x2="338.75" y2="346.79" stroke="#000" stroke-width="1"/>
<line x1="332.75" y1="349.19" x2="338.75" y2="349.19" stroke="#000" stroke-width="1"/>
<line x1="343" y1="337.74" x2="343" y2="344.14" stroke="#000" stroke-width="1"/>
<line x1="340" y1="337.74" x2="346" y2="337.74" stroke="#000" stroke-width="1"/>
<line x1="340" y1="344.14" x2="346" y2="344.14" stroke="#000" stroke-width="1"/>
<line x1="350.25" y1="330.21" x2="350.25" y2="337.21" stroke="#000" stroke-width="1"/>
<line x1="347.25" y1="330.21" x2="353.25" y2="330.21" stroke="#000" stroke-width="1"/>
<line x1="347.25" y1="337.21" x2="353.25" y2="337.21" stroke="#000" stroke-width="1"/>
<line x1="357.5" y1="321.82" x2="357.5" y2="330.02" stroke="#000" stroke-width="1"/>
<line x1="354.5" y1="321.82" x2="360.5" y2="321.82" stroke="#000" stroke-width="1"/>
<line x1="354.5" y1="330.02" x2="360.5" y2="330.02" stroke="#000" stroke-width="1"/>
<circle cx="227" cy="406.96" r="2.6" fill="#000"/>
<circle cx="234.25" cy="405.47" r="2.6" fill="#000"/>
<circle cx="241.5" cy="403.62" r="2.6" fill="#000"/>
<circle cx="248.75" cy="401.58" r="2.6" fill="#000"/>
<circle cx="256" cy="399.54" r="2.6" fill="#000"/>
<circle cx="263.25" cy="396.57" r="2.6" fill="#000"/>
<circle cx="270.5" cy="393.42" r="2.6" fill="#000"/>
<circle cx="277.75" cy="389.9" r="2.6" fill="#000"/>
<circle cx="285" cy="386.37" r="2.6" fill="#000"/>
<circle cx="292.25" cy="382.11" r="2.6" fill="#000"/>
<circle cx="299.5" cy="377.47" r="2.6" fill="#000"/>
<circle cx="306.75" cy="372.1" r="2.6" fill="#000"/>
<circle cx="314" cy="366.9" r="2.6" fill="#000"/>
<circle cx="321.25" cy="361.34" r="2.6" fill="#000"/>
<circle cx="328.5" cy="355.04" r="2.6" fill="#000"/>
<circle cx="335.75" cy="347.99" r="2.6" fill="#000"/>
<circle cx="343" cy="340.94" r="2.6" fill="#000"/>
<circle cx="350.25" cy="333.71" r="2.6" fill="#000"/>
<circle cx="357.5" cy="325.92" r="2.6" fill="#000"/>
<text x="96" y="520.1" font-size="12.5" text-anchor="middle" fill="#111">NECTIN4-CAR T Cells + HT1197</text>
<line x1="30.5" y1="537.3" x2="30.5" y2="671.35" stroke="#000" stroke-width="1.5"/>
<line x1="29.75" y1="670.6" x2="164.35" y2="670.6" stroke="#000" stroke-width="1.5"/>
<line x1="24.9" y1="670.6" x2="30.5" y2="670.6" stroke="#000" stroke-width="1.5"/>
<text x="23.3" y="674" font-size="9.6" text-anchor="end" fill="#111">0</text>
<line x1="27.2" y1="648.38" x2="30.5" y2="648.38" stroke="#000" stroke-width="1.5"/>
<line x1="24.9" y1="626.17" x2="30.5" y2="626.17" stroke="#000" stroke-width="1.5"/>
<text x="23.3" y="629.57" font-size="9.6" text-anchor="end" fill="#111">1</text>
<line x1="27.2" y1="603.95" x2="30.5" y2="603.95" stroke="#000" stroke-width="1.5"/>
<line x1="24.9" y1="581.73" x2="30.5" y2="581.73" stroke="#000" stroke-width="1.5"/>
<text x="23.3" y="585.13" font-size="9.6" text-anchor="end" fill="#111">2</text>
<line x1="27.2" y1="559.52" x2="30.5" y2="559.52" stroke="#000" stroke-width="1.5"/>
<line x1="24.9" y1="537.3" x2="30.5" y2="537.3" stroke="#000" stroke-width="1.5"/>
<text x="23.3" y="540.7" font-size="9.6" text-anchor="end" fill="#111">3</text>
<line x1="30.5" y1="670.6" x2="30.5" y2="676.2" stroke="#000" stroke-width="1.5"/>
<text x="30.5" y="687.2" font-size="9.6" text-anchor="middle" fill="#111">0</text>
<line x1="39.37" y1="670.6" x2="39.37" y2="674.2" stroke="#000" stroke-width="1.5"/>
<line x1="48.25" y1="670.6" x2="48.25" y2="674.2" stroke="#000" stroke-width="1.5"/>
<line x1="57.12" y1="670.6" x2="57.12" y2="676.2" stroke="#000" stroke-width="1.5"/>
<text x="57.12" y="687.2" font-size="9.6" text-anchor="middle" fill="#111">24</text>
<line x1="65.99" y1="670.6" x2="65.99" y2="674.2" stroke="#000" stroke-width="1.5"/>
<line x1="74.87" y1="670.6" x2="74.87" y2="674.2" stroke="#000" stroke-width="1.5"/>
<line x1="83.74" y1="670.6" x2="83.74" y2="676.2" stroke="#000" stroke-width="1.5"/>
<text x="83.74" y="687.2" font-size="9.6" text-anchor="middle" fill="#111">48</text>
<line x1="92.61" y1="670.6" x2="92.61" y2="674.2" stroke="#000" stroke-width="1.5"/>
<line x1="101.49" y1="670.6" x2="101.49" y2="674.2" stroke="#000" stroke-width="1.5"/>
<line x1="110.36" y1="670.6" x2="110.36" y2="676.2" stroke="#000" stroke-width="1.5"/>
<text x="110.36" y="687.2" font-size="9.6" text-anchor="middle" fill="#111">72</text>
<line x1="119.23" y1="670.6" x2="119.23" y2="674.2" stroke="#000" stroke-width="1.5"/>
<line x1="128.11" y1="670.6" x2="128.11" y2="674.2" stroke="#000" stroke-width="1.5"/>
<line x1="136.98" y1="670.6" x2="136.98" y2="676.2" stroke="#000" stroke-width="1.5"/>
<text x="136.98" y="687.2" font-size="9.6" text-anchor="middle" fill="#111">96</text>
<line x1="145.85" y1="670.6" x2="145.85" y2="674.2" stroke="#000" stroke-width="1.5"/>
<line x1="154.73" y1="670.6" x2="154.73" y2="674.2" stroke="#000" stroke-width="1.5"/>
<line x1="163.6" y1="670.6" x2="163.6" y2="676.2" stroke="#000" stroke-width="1.5"/>
<text x="163.6" y="687.2" font-size="9.6" text-anchor="middle" fill="#111">120</text>
<text transform="translate(11.7,603.95) rotate(-90)" font-size="12.2" text-anchor="middle" fill="#111">Normalized Red Area</text>
<text x="97.05" y="705.1" font-size="12.5" text-anchor="middle" fill="#111">Hours</text>
<text x="56.7" y="661" font-size="10.6" text-anchor="middle" fill="#111">E:T = 1:4</text>
<line x1="41.6" y1="544.4" x2="55.6" y2="544.4" stroke="#444" stroke-width="1"/>
<circle cx="48.6" cy="544.4" r="2.6" fill="#000"/>
<line x1="41.6" y1="562.9" x2="55.6" y2="562.9" stroke="#DCA15D" stroke-width="1"/>
<circle cx="48.6" cy="562.9" r="2.6" fill="#DCA15D"/>
<text x="63.6" y="548.1" font-size="10.8" text-anchor="start" fill="#111">HT1197 + DMSO</text>
<text x="63.6" y="566.3" font-size="10.8" text-anchor="start" fill="#111">HT1197 + Rosi</text>
<polyline fill="none" stroke="#DCA15D" stroke-width="1" points="30.5,626.17 39.37,628.83 48.25,631.94 57.12,632.83 65.99,635.5 74.87,637.27 83.74,638.61 92.61,640.39 101.49,641.94 110.36,643.27 119.23,644.38 128.11,644.83 136.98,645.72 145.85,646.61 154.73,647.49 163.6,648.61"/>
<circle cx="30.5" cy="626.17" r="2.6" fill="#DCA15D"/>
<circle cx="39.37" cy="628.83" r="2.6" fill="#DCA15D"/>
<circle cx="48.25" cy="631.94" r="2.6" fill="#DCA15D"/>
<circle cx="57.12" cy="632.83" r="2.6" fill="#DCA15D"/>
<circle cx="65.99" cy="635.5" r="2.6" fill="#DCA15D"/>
<circle cx="74.87" cy="637.27" r="2.6" fill="#DCA15D"/>
<circle cx="83.74" cy="638.61" r="2.6" fill="#DCA15D"/>
<circle cx="92.61" cy="640.39" r="2.6" fill="#DCA15D"/>
<circle cx="101.49" cy="641.94" r="2.6" fill="#DCA15D"/>
<circle cx="110.36" cy="643.27" r="2.6" fill="#DCA15D"/>
<circle cx="119.23" cy="644.38" r="2.6" fill="#DCA15D"/>
<circle cx="128.11" cy="644.83" r="2.6" fill="#DCA15D"/>
<circle cx="136.98" cy="645.72" r="2.6" fill="#DCA15D"/>
<circle cx="145.85" cy="646.61" r="2.6" fill="#DCA15D"/>
<circle cx="154.73" cy="647.49" r="2.6" fill="#DCA15D"/>
<circle cx="163.6" cy="648.61" r="2.6" fill="#DCA15D"/>
<polyline fill="none" stroke="#000" stroke-width="1" points="30.5,626.17 39.37,627.94 48.25,628.83 57.12,628.83 65.99,628.39 74.87,627.94 83.74,627.06 92.61,625.28 101.49,623.5 110.36,621.72 119.23,619.06 128.11,615.95 136.98,612.39 145.85,607.95 154.73,603.06 163.6,596.4"/>
<line x1="128.11" y1="614.45" x2="128.11" y2="617.45" stroke="#000" stroke-width="1"/>
<line x1="125.11" y1="614.45" x2="131.11" y2="614.45" stroke="#000" stroke-width="1"/>
<line x1="125.11" y1="617.45" x2="131.11" y2="617.45" stroke="#000" stroke-width="1"/>
<line x1="136.98" y1="610.39" x2="136.98" y2="614.39" stroke="#000" stroke-width="1"/>
<line x1="133.98" y1="610.39" x2="139.98" y2="610.39" stroke="#000" stroke-width="1"/>
<line x1="133.98" y1="614.39" x2="139.98" y2="614.39" stroke="#000" stroke-width="1"/>
<line x1="145.85" y1="604.75" x2="145.85" y2="611.15" stroke="#000" stroke-width="1"/>
<line x1="142.85" y1="604.75" x2="148.85" y2="604.75" stroke="#000" stroke-width="1"/>
<line x1="142.85" y1="611.15" x2="148.85" y2="611.15" stroke="#000" stroke-width="1"/>
<line x1="154.73" y1="599.06" x2="154.73" y2="607.06" stroke="#000" stroke-width="1"/>
<line x1="151.73" y1="599.06" x2="157.73" y2="599.06" stroke="#000" stroke-width="1"/>
<line x1="151.73" y1="607.06" x2="157.73" y2="607.06" stroke="#000" stroke-width="1"/>
<line x1="163.6" y1="591.4" x2="163.6" y2="601.4" stroke="#000" stroke-width="1"/>
<line x1="160.6" y1="591.4" x2="166.6" y2="591.4" stroke="#000" stroke-width="1"/>
<line x1="160.6" y1="601.4" x2="166.6" y2="601.4" stroke="#000" stroke-width="1"/>
<circle cx="30.5" cy="626.17" r="2.6" fill="#000"/>
<circle cx="39.37" cy="627.94" r="2.6" fill="#000"/>
<circle cx="48.25" cy="628.83" r="2.6" fill="#000"/>
<circle cx="57.12" cy="628.83" r="2.6" fill="#000"/>
<circle cx="65.99" cy="628.39" r="2.6" fill="#000"/>
<circle cx="74.87" cy="627.94" r="2.6" fill="#000"/>
<circle cx="83.74" cy="627.06" r="2.6" fill="#000"/>
<circle cx="92.61" cy="625.28" r="2.6" fill="#000"/>
<circle cx="101.49" cy="623.5" r="2.6" fill="#000"/>
<circle cx="110.36" cy="621.72" r="2.6" fill="#000"/>
<circle cx="119.23" cy="619.06" r="2.6" fill="#000"/>
<circle cx="128.11" cy="615.95" r="2.6" fill="#000"/>
<circle cx="136.98" cy="612.39" r="2.6" fill="#000"/>
<circle cx="145.85" cy="607.95" r="2.6" fill="#000"/>
<circle cx="154.73" cy="603.06" r="2.6" fill="#000"/>
<circle cx="163.6" cy="596.4" r="2.6" fill="#000"/>
<text x="291" y="519.6" font-size="12.6" text-anchor="middle" fill="#111">Nontransduced T Cells + HT1197</text>
<line x1="224.4" y1="537.7" x2="224.4" y2="671.55" stroke="#000" stroke-width="1.5"/>
<line x1="223.65" y1="670.8" x2="358.25" y2="670.8" stroke="#000" stroke-width="1.5"/>
<line x1="218.8" y1="670.8" x2="224.4" y2="670.8" stroke="#000" stroke-width="1.5"/>
<text x="217.2" y="674.2" font-size="9.6" text-anchor="end" fill="#111">0</text>
<line x1="221.1" y1="648.62" x2="224.4" y2="648.62" stroke="#000" stroke-width="1.5"/>
<line x1="218.8" y1="626.43" x2="224.4" y2="626.43" stroke="#000" stroke-width="1.5"/>
<text x="217.2" y="629.83" font-size="9.6" text-anchor="end" fill="#111">2</text>
<line x1="221.1" y1="604.25" x2="224.4" y2="604.25" stroke="#000" stroke-width="1.5"/>
<line x1="218.8" y1="582.07" x2="224.4" y2="582.07" stroke="#000" stroke-width="1.5"/>
<text x="217.2" y="585.47" font-size="9.6" text-anchor="end" fill="#111">4</text>
<line x1="221.1" y1="559.88" x2="224.4" y2="559.88" stroke="#000" stroke-width="1.5"/>
<line x1="218.8" y1="537.7" x2="224.4" y2="537.7" stroke="#000" stroke-width="1.5"/>
<text x="217.2" y="541.1" font-size="9.6" text-anchor="end" fill="#111">6</text>
<line x1="224.4" y1="670.8" x2="224.4" y2="676.4" stroke="#000" stroke-width="1.5"/>
<text x="224.4" y="687.4" font-size="9.6" text-anchor="middle" fill="#111">0</text>
<line x1="233.27" y1="670.8" x2="233.27" y2="674.4" stroke="#000" stroke-width="1.5"/>
<line x1="242.15" y1="670.8" x2="242.15" y2="674.4" stroke="#000" stroke-width="1.5"/>
<line x1="251.02" y1="670.8" x2="251.02" y2="676.4" stroke="#000" stroke-width="1.5"/>
<text x="251.02" y="687.4" font-size="9.6" text-anchor="middle" fill="#111">24</text>
<line x1="259.89" y1="670.8" x2="259.89" y2="674.4" stroke="#000" stroke-width="1.5"/>
<line x1="268.77" y1="670.8" x2="268.77" y2="674.4" stroke="#000" stroke-width="1.5"/>
<line x1="277.64" y1="670.8" x2="277.64" y2="676.4" stroke="#000" stroke-width="1.5"/>
<text x="277.64" y="687.4" font-size="9.6" text-anchor="middle" fill="#111">48</text>
<line x1="286.51" y1="670.8" x2="286.51" y2="674.4" stroke="#000" stroke-width="1.5"/>
<line x1="295.39" y1="670.8" x2="295.39" y2="674.4" stroke="#000" stroke-width="1.5"/>
<line x1="304.26" y1="670.8" x2="304.26" y2="676.4" stroke="#000" stroke-width="1.5"/>
<text x="304.26" y="687.4" font-size="9.6" text-anchor="middle" fill="#111">72</text>
<line x1="313.13" y1="670.8" x2="313.13" y2="674.4" stroke="#000" stroke-width="1.5"/>
<line x1="322.01" y1="670.8" x2="322.01" y2="674.4" stroke="#000" stroke-width="1.5"/>
<line x1="330.88" y1="670.8" x2="330.88" y2="676.4" stroke="#000" stroke-width="1.5"/>
<text x="330.88" y="687.4" font-size="9.6" text-anchor="middle" fill="#111">96</text>
<line x1="339.75" y1="670.8" x2="339.75" y2="674.4" stroke="#000" stroke-width="1.5"/>
<line x1="348.63" y1="670.8" x2="348.63" y2="674.4" stroke="#000" stroke-width="1.5"/>
<line x1="357.5" y1="670.8" x2="357.5" y2="676.4" stroke="#000" stroke-width="1.5"/>
<text x="357.5" y="687.4" font-size="9.6" text-anchor="middle" fill="#111">120</text>
<text transform="translate(205.5,604.25) rotate(-90)" font-size="12.2" text-anchor="middle" fill="#111">Normalized Red Area</text>
<text x="290.95" y="705.3" font-size="12.5" text-anchor="middle" fill="#111">Hours</text>
<text x="330.1" y="660.7" font-size="10.6" text-anchor="middle" fill="#111">E:T = 1:1</text>
<line x1="235.7" y1="545" x2="249.7" y2="545" stroke="#444" stroke-width="1"/>
<circle cx="242.7" cy="545" r="2.6" fill="#000"/>
<line x1="235.7" y1="563.5" x2="249.7" y2="563.5" stroke="#DCA15D" stroke-width="1"/>
<circle cx="242.7" cy="563.5" r="2.6" fill="#DCA15D"/>
<text x="257.7" y="548.7" font-size="10.8" text-anchor="start" fill="#111">HT1197 + DMSO</text>
<text x="257.7" y="566.9" font-size="10.8" text-anchor="start" fill="#111">HT1197 + Rosi</text>
<polyline fill="none" stroke="#DCA15D" stroke-width="1" points="224.4,648.62 233.27,649.73 242.15,647.95 251.02,647.29 259.89,645.29 268.77,642.63 277.64,640.41 286.51,635.75 295.39,633.31 304.26,627.76 313.13,621.77 322.01,615.34 330.88,607.13 339.75,597.82 348.63,588.94 357.5,580.29"/>
<line x1="304.26" y1="624.86" x2="304.26" y2="630.66" stroke="#DCA15D" stroke-width="1"/>
<line x1="301.26" y1="624.86" x2="307.26" y2="624.86" stroke="#DCA15D" stroke-width="1"/>
<line x1="301.26" y1="630.66" x2="307.26" y2="630.66" stroke="#DCA15D" stroke-width="1"/>
<line x1="313.13" y1="617.57" x2="313.13" y2="625.97" stroke="#DCA15D" stroke-width="1"/>
<line x1="310.13" y1="617.57" x2="316.13" y2="617.57" stroke="#DCA15D" stroke-width="1"/>
<line x1="310.13" y1="625.97" x2="316.13" y2="625.97" stroke="#DCA15D" stroke-width="1"/>
<line x1="322.01" y1="610.44" x2="322.01" y2="620.24" stroke="#DCA15D" stroke-width="1"/>
<line x1="319.01" y1="610.44" x2="325.01" y2="610.44" stroke="#DCA15D" stroke-width="1"/>
<line x1="319.01" y1="620.24" x2="325.01" y2="620.24" stroke="#DCA15D" stroke-width="1"/>
<line x1="330.88" y1="601.03" x2="330.88" y2="613.23" stroke="#DCA15D" stroke-width="1"/>
<line x1="327.88" y1="601.03" x2="333.88" y2="601.03" stroke="#DCA15D" stroke-width="1"/>
<line x1="327.88" y1="613.23" x2="333.88" y2="613.23" stroke="#DCA15D" stroke-width="1"/>
<line x1="339.75" y1="591.02" x2="339.75" y2="604.62" stroke="#DCA15D" stroke-width="1"/>
<line x1="336.75" y1="591.02" x2="342.75" y2="591.02" stroke="#DCA15D" stroke-width="1"/>
<line x1="336.75" y1="604.62" x2="342.75" y2="604.62" stroke="#DCA15D" stroke-width="1"/>
<line x1="348.63" y1="581.64" x2="348.63" y2="596.24" stroke="#DCA15D" stroke-width="1"/>
<line x1="345.63" y1="581.64" x2="351.63" y2="581.64" stroke="#DCA15D" stroke-width="1"/>
<line x1="345.63" y1="596.24" x2="351.63" y2="596.24" stroke="#DCA15D" stroke-width="1"/>
<line x1="357.5" y1="571.59" x2="357.5" y2="588.99" stroke="#DCA15D" stroke-width="1"/>
<line x1="354.5" y1="571.59" x2="360.5" y2="571.59" stroke="#DCA15D" stroke-width="1"/>
<line x1="354.5" y1="588.99" x2="360.5" y2="588.99" stroke="#DCA15D" stroke-width="1"/>
<circle cx="224.4" cy="648.62" r="2.6" fill="#DCA15D"/>
<circle cx="233.27" cy="649.73" r="2.6" fill="#DCA15D"/>
<circle cx="242.15" cy="647.95" r="2.6" fill="#DCA15D"/>
<circle cx="251.02" cy="647.29" r="2.6" fill="#DCA15D"/>
<circle cx="259.89" cy="645.29" r="2.6" fill="#DCA15D"/>
<circle cx="268.77" cy="642.63" r="2.6" fill="#DCA15D"/>
<circle cx="277.64" cy="640.41" r="2.6" fill="#DCA15D"/>
<circle cx="286.51" cy="635.75" r="2.6" fill="#DCA15D"/>
<circle cx="295.39" cy="633.31" r="2.6" fill="#DCA15D"/>
<circle cx="304.26" cy="627.76" r="2.6" fill="#DCA15D"/>
<circle cx="313.13" cy="621.77" r="2.6" fill="#DCA15D"/>
<circle cx="322.01" cy="615.34" r="2.6" fill="#DCA15D"/>
<circle cx="330.88" cy="607.13" r="2.6" fill="#DCA15D"/>
<circle cx="339.75" cy="597.82" r="2.6" fill="#DCA15D"/>
<circle cx="348.63" cy="588.94" r="2.6" fill="#DCA15D"/>
<circle cx="357.5" cy="580.29" r="2.6" fill="#DCA15D"/>
<polyline fill="none" stroke="#000" stroke-width="1" points="224.4,648.62 233.27,648.39 242.15,647.29 251.02,645.73 259.89,642.63 268.77,639.08 277.64,634.42 286.51,629.1 295.39,622.88 304.26,615.34 313.13,606.02 322.01,596.26 330.88,584.73 339.75,572.53 348.63,559.88 357.5,547.68"/>
<circle cx="224.4" cy="648.62" r="2.6" fill="#000"/>
<circle cx="233.27" cy="648.39" r="2.6" fill="#000"/>
<circle cx="242.15" cy="647.29" r="2.6" fill="#000"/>
<circle cx="251.02" cy="645.73" r="2.6" fill="#000"/>
<circle cx="259.89" cy="642.63" r="2.6" fill="#000"/>
<circle cx="268.77" cy="639.08" r="2.6" fill="#000"/>
<circle cx="277.64" cy="634.42" r="2.6" fill="#000"/>
<circle cx="286.51" cy="629.1" r="2.6" fill="#000"/>
<circle cx="295.39" cy="622.88" r="2.6" fill="#000"/>
<circle cx="304.26" cy="615.34" r="2.6" fill="#000"/>
<circle cx="313.13" cy="606.02" r="2.6" fill="#000"/>
<circle cx="322.01" cy="596.26" r="2.6" fill="#000"/>
<circle cx="330.88" cy="584.73" r="2.6" fill="#000"/>
<circle cx="339.75" cy="572.53" r="2.6" fill="#000"/>
<circle cx="348.63" cy="559.88" r="2.6" fill="#000"/>
<circle cx="357.5" cy="547.68" r="2.6" fill="#000"/>
<rect x="430.4" y="24.7" width="6.6" height="6.6" fill="#5F615F" stroke="#000" stroke-width="1.4"/>
<rect x="544.4" y="24.7" width="6.6" height="6.6" fill="#E2B274" stroke="#000" stroke-width="1.4"/>
<text x="442.1" y="32.9" font-size="12.4" text-anchor="start" fill="#111">RT112 + DMSO</text>
<text x="556.1" y="32.9" font-size="12.4" text-anchor="start" fill="#111">RT112 + Rosiglitazone</text>
<line x1="440.3" y1="174.22" x2="665" y2="174.22" stroke="#000" stroke-width="1.35" stroke-dasharray="4.6 1.5" stroke-dashoffset="4.8"/>
<rect x="453.15" y="174.22" width="9.9" height="6.48" fill="#5F615F" stroke="#000" stroke-width="1.7"/>
<rect x="464.75" y="174.22" width="10.1" height="6.48" fill="#E2B274" stroke="#000" stroke-width="1.7"/>
<line x1="463.9" y1="174.22" x2="463.9" y2="180.7" stroke="#000" stroke-width="2.2"/>
<circle cx="454.9" cy="173.9" r="2.3" fill="#000"/>
<circle cx="458.1" cy="174.22" r="2.3" fill="#000"/>
<circle cx="461.3" cy="174.09" r="2.3" fill="#000"/>
<circle cx="466.6" cy="173.9" r="2.3" fill="#000"/>
<circle cx="469.8" cy="174.22" r="2.3" fill="#000"/>
<circle cx="473" cy="174.03" r="2.3" fill="#000"/>
<rect x="501.25" y="173.9" width="9.8" height="6.8" fill="#5F615F" stroke="#000" stroke-width="1.7"/>
<rect x="512.75" y="173.9" width="9.7" height="6.8" fill="#E2B274" stroke="#000" stroke-width="1.7"/>
<line x1="511.9" y1="173.9" x2="511.9" y2="180.7" stroke="#000" stroke-width="2.2"/>
<circle cx="502.95" cy="173.57" r="2.3" fill="#000"/>
<circle cx="506.15" cy="173.9" r="2.3" fill="#000"/>
<circle cx="509.35" cy="174.22" r="2.3" fill="#000"/>
<circle cx="514.4" cy="173.57" r="2.3" fill="#000"/>
<circle cx="517.6" cy="173.9" r="2.3" fill="#000"/>
<circle cx="520.8" cy="174.22" r="2.3" fill="#000"/>
<rect x="548.05" y="92.57" width="10.6" height="88.13" fill="#5F615F" stroke="#000" stroke-width="1.7"/>
<rect x="560.35" y="68.27" width="10.7" height="112.43" fill="#E2B274" stroke="#000" stroke-width="1.7"/>
<line x1="559.5" y1="92.57" x2="559.5" y2="180.7" stroke="#000" stroke-width="2.2"/>
<circle cx="550.15" cy="92.57" r="2.3" fill="#000"/>
<circle cx="553.35" cy="91.92" r="2.3" fill="#000"/>
<circle cx="556.55" cy="92.9" r="2.3" fill="#000"/>
<circle cx="562.5" cy="69.24" r="2.3" fill="#000"/>
<circle cx="565.7" cy="66.65" r="2.3" fill="#000"/>
<circle cx="568.9" cy="68.6" r="2.3" fill="#000"/>
<rect x="578.85" y="116.55" width="10" height="64.15" fill="#5F615F" stroke="#000" stroke-width="1.7"/>
<rect x="590.55" y="96.46" width="10" height="84.24" fill="#E2B274" stroke="#000" stroke-width="1.7"/>
<line x1="589.7" y1="116.55" x2="589.7" y2="180.7" stroke="#000" stroke-width="2.2"/>
<line x1="583.85" y1="114.22" x2="583.85" y2="118.88" stroke="#000" stroke-width="1"/>
<line x1="581.35" y1="114.22" x2="586.35" y2="114.22" stroke="#000" stroke-width="1"/>
<circle cx="580.65" cy="113.31" r="2.3" fill="#000"/>
<circle cx="583.85" cy="119.14" r="2.3" fill="#000"/>
<circle cx="587.05" cy="116.55" r="2.3" fill="#000"/>
<line x1="595.55" y1="94.9" x2="595.55" y2="98.02" stroke="#000" stroke-width="1"/>
<line x1="593.05" y1="94.9" x2="598.05" y2="94.9" stroke="#000" stroke-width="1"/>
<circle cx="592.35" cy="97.11" r="2.3" fill="#000"/>
<circle cx="595.55" cy="93.87" r="2.3" fill="#000"/>
<circle cx="598.75" cy="97.76" r="2.3" fill="#000"/>
<rect x="608.45" y="143.76" width="10" height="36.94" fill="#5F615F" stroke="#000" stroke-width="1.7"/>
<rect x="620.15" y="127.24" width="10" height="53.46" fill="#E2B274" stroke="#000" stroke-width="1.7"/>
<line x1="619.3" y1="143.76" x2="619.3" y2="180.7" stroke="#000" stroke-width="2.2"/>
<line x1="613.45" y1="140.14" x2="613.45" y2="147.39" stroke="#000" stroke-width="1"/>
<line x1="610.95" y1="140.14" x2="615.95" y2="140.14" stroke="#000" stroke-width="1"/>
<circle cx="610.25" cy="137.93" r="2.3" fill="#000"/>
<circle cx="613.45" cy="147" r="2.3" fill="#000"/>
<circle cx="616.65" cy="145.71" r="2.3" fill="#000"/>
<circle cx="621.95" cy="127.56" r="2.3" fill="#000"/>
<circle cx="625.15" cy="126.27" r="2.3" fill="#000"/>
<circle cx="628.35" cy="128.21" r="2.3" fill="#000"/>
<rect x="638.45" y="168.65" width="9.9" height="12.05" fill="#5F615F" stroke="#000" stroke-width="1.7"/>
<rect x="650.05" y="152.84" width="9.7" height="27.86" fill="#E2B274" stroke="#000" stroke-width="1.7"/>
<line x1="649.2" y1="168.65" x2="649.2" y2="180.7" stroke="#000" stroke-width="2.2"/>
<circle cx="640.2" cy="168.39" r="2.3" fill="#000"/>
<circle cx="643.4" cy="167.74" r="2.3" fill="#000"/>
<circle cx="646.6" cy="169.04" r="2.3" fill="#000"/>
<circle cx="651.7" cy="152.84" r="2.3" fill="#000"/>
<circle cx="654.9" cy="152.19" r="2.3" fill="#000"/>
<circle cx="658.1" cy="153.48" r="2.3" fill="#000"/>
<line x1="440.3" y1="51.1" x2="440.3" y2="181.45" stroke="#000" stroke-width="1.8"/>
<line x1="433.8" y1="180.7" x2="665.5" y2="180.7" stroke="#000" stroke-width="1.8"/>
<line x1="433.8" y1="180.7" x2="440.3" y2="180.7" stroke="#000" stroke-width="1.8"/>
<text x="432" y="184.1" font-size="9.8" text-anchor="end" fill="#111">0</text>
<line x1="436.8" y1="164.5" x2="440.3" y2="164.5" stroke="#000" stroke-width="1.8"/>
<line x1="433.8" y1="148.3" x2="440.3" y2="148.3" stroke="#000" stroke-width="1.8"/>
<text x="432" y="151.7" font-size="9.8" text-anchor="end" fill="#111">5</text>
<line x1="436.8" y1="132.1" x2="440.3" y2="132.1" stroke="#000" stroke-width="1.8"/>
<line x1="433.8" y1="115.9" x2="440.3" y2="115.9" stroke="#000" stroke-width="1.8"/>
<text x="432" y="119.3" font-size="9.8" text-anchor="end" fill="#111">10</text>
<line x1="436.8" y1="99.7" x2="440.3" y2="99.7" stroke="#000" stroke-width="1.8"/>
<line x1="433.8" y1="83.5" x2="440.3" y2="83.5" stroke="#000" stroke-width="1.8"/>
<text x="432" y="86.9" font-size="9.8" text-anchor="end" fill="#111">15</text>
<line x1="436.8" y1="67.3" x2="440.3" y2="67.3" stroke="#000" stroke-width="1.8"/>
<line x1="433.8" y1="51.1" x2="440.3" y2="51.1" stroke="#000" stroke-width="1.8"/>
<text x="432" y="54.5" font-size="9.8" text-anchor="end" fill="#111">20</text>
<text transform="translate(414,115.9) rotate(-90)" font-size="12.65" text-anchor="middle" fill="#111">Kill Index</text>
<polyline fill="none" stroke="#000" stroke-width="1.5" points="505.8,169.2 505.8,161.9 517.7,161.9 517.7,169.2"/>
<text x="511.6" y="154.6" font-size="10.3" text-anchor="middle" fill="#111">&gt;0.9999</text>
<polyline fill="none" stroke="#000" stroke-width="1.5" points="553.2,61.4 553.2,53.4 565.7,53.4 565.7,61.4"/>
<text x="559.4" y="46.8" font-size="10.3" text-anchor="middle" fill="#111">&lt;0.0001</text>
<polyline fill="none" stroke="#000" stroke-width="1.5" points="583.6,79.6 583.6,73.1 595.6,73.1 595.6,79.6"/>
<text x="589.2" y="65.8" font-size="10.3" text-anchor="middle" fill="#111">&lt;0.0001</text>
<polyline fill="none" stroke="#000" stroke-width="1.5" points="613.5,101.6 613.5,94.6 625.1,94.6 625.1,101.6"/>
<text x="619" y="87.2" font-size="10.3" text-anchor="middle" fill="#111">&lt;0.0001</text>
<polyline fill="none" stroke="#000" stroke-width="1.5" points="643.1,123.5 643.1,116.8 655.4,116.8 655.4,123.5"/>
<text x="649" y="109.2" font-size="10.3" text-anchor="middle" fill="#111">&lt;0.0001</text>
<text x="440.1" y="192.7" font-size="10.2" text-anchor="middle" fill="#111">E:T</text>
<text x="463.4" y="192.7" font-size="10.2" text-anchor="middle" fill="#111">0:1</text>
<text x="511.3" y="192.7" font-size="10.2" text-anchor="middle" fill="#111">1:1</text>
<text x="559.5" y="192.7" font-size="10.2" text-anchor="middle" fill="#111">2:1</text>
<text x="589.7" y="192.7" font-size="10.2" text-anchor="middle" fill="#111">1:1</text>
<text x="619.3" y="192.7" font-size="10.2" text-anchor="middle" fill="#111">1:2</text>
<text x="649.1" y="192.7" font-size="10.2" text-anchor="middle" fill="#111">1:4</text>
<line x1="485.8" y1="198.4" x2="537.9" y2="198.4" stroke="#000" stroke-width="1.5"/>
<text x="510.8" y="209.9" font-size="10.55" text-anchor="middle" font-weight="bold" fill="#111">NTD</text>
<text x="510.8" y="222.7" font-size="10.55" text-anchor="middle" font-weight="bold" fill="#111">T Cells</text>
<line x1="546.2" y1="198.4" x2="666.9" y2="198.4" stroke="#000" stroke-width="1.5"/>
<text x="605" y="209.9" font-size="10.55" text-anchor="middle" font-weight="bold" fill="#111">NECTIN4 CAR</text>
<text x="605" y="222.7" font-size="10.55" text-anchor="middle" font-weight="bold" fill="#111">T Cells</text>
<rect x="421.2" y="267.7" width="6.6" height="6.6" fill="#5F615F" stroke="#000" stroke-width="1.4"/>
<rect x="541.4" y="267.7" width="6.6" height="6.6" fill="#E2B274" stroke="#000" stroke-width="1.4"/>
<text x="432.9" y="275.9" font-size="12.4" text-anchor="start" fill="#111">UMUC-1 + DMSO</text>
<text x="553.1" y="275.9" font-size="12.4" text-anchor="start" fill="#111">UMUC-1 + Rosiglitazone</text>
<line x1="444.1" y1="388.2" x2="666.5" y2="388.2" stroke="#000" stroke-width="1.35" stroke-dasharray="4.6 1.5" stroke-dashoffset="4.8"/>
<rect x="457.15" y="388.2" width="9.5" height="31.6" fill="#5F615F" stroke="#000" stroke-width="1.7"/>
<rect x="468.35" y="388.2" width="9.6" height="31.6" fill="#E2B274" stroke="#000" stroke-width="1.7"/>
<line x1="467.5" y1="388.2" x2="467.5" y2="419.8" stroke="#000" stroke-width="2.2"/>
<circle cx="458.7" cy="387.57" r="2.3" fill="#000"/>
<circle cx="461.9" cy="388.2" r="2.3" fill="#000"/>
<circle cx="465.1" cy="387.88" r="2.3" fill="#000"/>
<circle cx="469.95" cy="387.57" r="2.3" fill="#000"/>
<circle cx="473.15" cy="388.2" r="2.3" fill="#000"/>
<circle cx="476.35" cy="387.88" r="2.3" fill="#000"/>
<rect x="503.45" y="388.52" width="9.7" height="31.28" fill="#5F615F" stroke="#000" stroke-width="1.7"/>
<rect x="514.85" y="388.2" width="9.8" height="31.6" fill="#E2B274" stroke="#000" stroke-width="1.7"/>
<line x1="514" y1="388.52" x2="514" y2="419.8" stroke="#000" stroke-width="2.2"/>
<circle cx="505.1" cy="388.2" r="2.3" fill="#000"/>
<circle cx="508.3" cy="388.83" r="2.3" fill="#000"/>
<circle cx="511.5" cy="388.52" r="2.3" fill="#000"/>
<circle cx="516.55" cy="388.2" r="2.3" fill="#000"/>
<circle cx="519.75" cy="388.52" r="2.3" fill="#000"/>
<circle cx="522.95" cy="387.88" r="2.3" fill="#000"/>
<rect x="550.15" y="346.8" width="10" height="73" fill="#5F615F" stroke="#000" stroke-width="1.7"/>
<rect x="561.85" y="333.22" width="9.6" height="86.58" fill="#E2B274" stroke="#000" stroke-width="1.7"/>
<line x1="561" y1="346.8" x2="561" y2="419.8" stroke="#000" stroke-width="2.2"/>
<circle cx="551.95" cy="346.8" r="2.3" fill="#000"/>
<circle cx="555.15" cy="345.86" r="2.3" fill="#000"/>
<circle cx="558.35" cy="347.12" r="2.3" fill="#000"/>
<circle cx="563.45" cy="333.85" r="2.3" fill="#000"/>
<circle cx="566.65" cy="331.32" r="2.3" fill="#000"/>
<circle cx="569.85" cy="333.85" r="2.3" fill="#000"/>
<rect x="579.25" y="358.18" width="9.7" height="61.62" fill="#5F615F" stroke="#000" stroke-width="1.7"/>
<rect x="590.65" y="345.22" width="10.3" height="74.58" fill="#E2B274" stroke="#000" stroke-width="1.7"/>
<line x1="589.8" y1="358.18" x2="589.8" y2="419.8" stroke="#000" stroke-width="2.2"/>
<circle cx="580.9" cy="358.18" r="2.3" fill="#000"/>
<circle cx="584.1" cy="358.5" r="2.3" fill="#000"/>
<circle cx="587.3" cy="358.18" r="2.3" fill="#000"/>
<circle cx="592.6" cy="345.54" r="2.3" fill="#000"/>
<circle cx="595.8" cy="343.96" r="2.3" fill="#000"/>
<circle cx="599" cy="346.17" r="2.3" fill="#000"/>
<rect x="608.65" y="373.03" width="9.5" height="46.77" fill="#5F615F" stroke="#000" stroke-width="1.7"/>
<rect x="619.85" y="357.86" width="10.1" height="61.94" fill="#E2B274" stroke="#000" stroke-width="1.7"/>
<line x1="619" y1="373.03" x2="619" y2="419.8" stroke="#000" stroke-width="2.2"/>
<line x1="613.4" y1="369.37" x2="613.4" y2="376.7" stroke="#000" stroke-width="1"/>
<line x1="610.9" y1="369.37" x2="615.9" y2="369.37" stroke="#000" stroke-width="1"/>
<circle cx="610.2" cy="367.03" r="2.3" fill="#000"/>
<circle cx="613.4" cy="375.56" r="2.3" fill="#000"/>
<circle cx="616.6" cy="376.19" r="2.3" fill="#000"/>
<line x1="624.9" y1="355.97" x2="624.9" y2="359.76" stroke="#000" stroke-width="1"/>
<line x1="622.4" y1="355.97" x2="627.4" y2="355.97" stroke="#000" stroke-width="1"/>
<circle cx="621.7" cy="355.65" r="2.3" fill="#000"/>
<circle cx="624.9" cy="358.18" r="2.3" fill="#000"/>
<circle cx="628.1" cy="360.39" r="2.3" fill="#000"/>
<rect x="638.05" y="386.62" width="9.1" height="33.18" fill="#5F615F" stroke="#000" stroke-width="1.7"/>
<rect x="648.85" y="374.93" width="10.6" height="44.87" fill="#E2B274" stroke="#000" stroke-width="1.7"/>
<line x1="648" y1="386.62" x2="648" y2="419.8" stroke="#000" stroke-width="2.2"/>
<line x1="642.6" y1="384.22" x2="642.6" y2="389.02" stroke="#000" stroke-width="1"/>
<line x1="640.1" y1="384.22" x2="645.1" y2="384.22" stroke="#000" stroke-width="1"/>
<circle cx="639.4" cy="382.83" r="2.3" fill="#000"/>
<circle cx="642.6" cy="387.57" r="2.3" fill="#000"/>
<circle cx="645.8" cy="388.83" r="2.3" fill="#000"/>
<line x1="654.15" y1="372.4" x2="654.15" y2="377.46" stroke="#000" stroke-width="1"/>
<line x1="651.65" y1="372.4" x2="656.65" y2="372.4" stroke="#000" stroke-width="1"/>
<circle cx="650.95" cy="370.82" r="2.3" fill="#000"/>
<circle cx="654.15" cy="376.19" r="2.3" fill="#000"/>
<circle cx="657.35" cy="377.14" r="2.3" fill="#000"/>
<line x1="444.1" y1="293.4" x2="444.1" y2="420.55" stroke="#000" stroke-width="1.8"/>
<line x1="437.6" y1="419.8" x2="665.7" y2="419.8" stroke="#000" stroke-width="1.8"/>
<line x1="437.6" y1="419.8" x2="444.1" y2="419.8" stroke="#000" stroke-width="1.8"/>
<text x="435.8" y="423.2" font-size="9.8" text-anchor="end" fill="#111">0</text>
<line x1="440.6" y1="404" x2="444.1" y2="404" stroke="#000" stroke-width="1.8"/>
<line x1="437.6" y1="388.2" x2="444.1" y2="388.2" stroke="#000" stroke-width="1.8"/>
<text x="435.8" y="391.6" font-size="9.8" text-anchor="end" fill="#111">1</text>
<line x1="440.6" y1="372.4" x2="444.1" y2="372.4" stroke="#000" stroke-width="1.8"/>
<line x1="437.6" y1="356.6" x2="444.1" y2="356.6" stroke="#000" stroke-width="1.8"/>
<text x="435.8" y="360" font-size="9.8" text-anchor="end" fill="#111">2</text>
<line x1="440.6" y1="340.8" x2="444.1" y2="340.8" stroke="#000" stroke-width="1.8"/>
<line x1="437.6" y1="325" x2="444.1" y2="325" stroke="#000" stroke-width="1.8"/>
<text x="435.8" y="328.4" font-size="9.8" text-anchor="end" fill="#111">3</text>
<line x1="440.6" y1="309.2" x2="444.1" y2="309.2" stroke="#000" stroke-width="1.8"/>
<line x1="437.6" y1="293.4" x2="444.1" y2="293.4" stroke="#000" stroke-width="1.8"/>
<text x="435.8" y="296.8" font-size="9.8" text-anchor="end" fill="#111">4</text>
<text transform="translate(424.4,356.6) rotate(-90)" font-size="12.65" text-anchor="middle" fill="#111">Kill Index</text>
<polyline fill="none" stroke="#000" stroke-width="1.5" points="508,379.7 508,372.4 520.1,372.4 520.1,379.7"/>
<text x="514.2" y="365" font-size="10.3" text-anchor="middle" fill="#111">&gt;0.9999</text>
<polyline fill="none" stroke="#000" stroke-width="1.5" points="554.7,315.8 554.7,308 566.9,308 566.9,315.8"/>
<text x="560.8" y="301.6" font-size="10.3" text-anchor="middle" fill="#111">&lt;0.0001</text>
<polyline fill="none" stroke="#000" stroke-width="1.5" points="584.3,329.2 584.3,321.8 596,321.8 596,329.2"/>
<text x="589.9" y="314.6" font-size="10.3" text-anchor="middle" fill="#111">&lt;0.0001</text>
<polyline fill="none" stroke="#000" stroke-width="1.5" points="613.3,342.6 613.3,334.7 625.4,334.7 625.4,342.6"/>
<text x="618.9" y="328.5" font-size="10.3" text-anchor="middle" fill="#111">&lt;0.0001</text>
<polyline fill="none" stroke="#000" stroke-width="1.5" points="642.5,360.4 642.5,352.7 654.3,352.7 654.3,360.4"/>
<text x="648" y="346.4" font-size="10.3" text-anchor="middle" fill="#111">&lt;0.0001</text>
<text x="444.1" y="431.5" font-size="10.2" text-anchor="middle" fill="#111">E:T</text>
<text x="466.7" y="431.5" font-size="10.2" text-anchor="middle" fill="#111">0:1</text>
<text x="513.9" y="431.5" font-size="10.2" text-anchor="middle" fill="#111">1:1</text>
<text x="560.5" y="431.5" font-size="10.2" text-anchor="middle" fill="#111">2:1</text>
<text x="590" y="431.5" font-size="10.2" text-anchor="middle" fill="#111">1:1</text>
<text x="619.5" y="431.5" font-size="10.2" text-anchor="middle" fill="#111">1:2</text>
<text x="648.8" y="431.5" font-size="10.2" text-anchor="middle" fill="#111">1:4</text>
<line x1="488.8" y1="436.8" x2="539.6" y2="436.8" stroke="#000" stroke-width="1.5"/>
<text x="514" y="448.3" font-size="10.55" text-anchor="middle" font-weight="bold" fill="#111">NTD</text>
<text x="514" y="461.1" font-size="10.55" text-anchor="middle" font-weight="bold" fill="#111">T Cells</text>
<line x1="548.3" y1="436.8" x2="667" y2="436.8" stroke="#000" stroke-width="1.5"/>
<text x="605.7" y="448.3" font-size="10.55" text-anchor="middle" font-weight="bold" fill="#111">NECTIN4 CAR</text>
<text x="605.7" y="461.1" font-size="10.55" text-anchor="middle" font-weight="bold" fill="#111">T Cells</text>
<rect x="429.5" y="513.8" width="6.6" height="6.6" fill="#5F615F" stroke="#000" stroke-width="1.4"/>
<rect x="543.4" y="513.8" width="6.6" height="6.6" fill="#E2B274" stroke="#000" stroke-width="1.4"/>
<text x="441.2" y="522" font-size="12.4" text-anchor="start" fill="#111">HT1197 + DMSO</text>
<text x="555.1" y="522" font-size="12.4" text-anchor="start" fill="#111">HT1197 + Rosiglitazone</text>
<line x1="438.9" y1="642.98" x2="663.5" y2="642.98" stroke="#000" stroke-width="1.35" stroke-dasharray="4.6 1.5" stroke-dashoffset="4.8"/>
<rect x="452.25" y="642.98" width="9.3" height="25.82" fill="#5F615F" stroke="#000" stroke-width="1.7"/>
<rect x="463.25" y="642.98" width="9.7" height="25.82" fill="#E2B274" stroke="#000" stroke-width="1.7"/>
<line x1="462.4" y1="642.98" x2="462.4" y2="668.8" stroke="#000" stroke-width="2.2"/>
<circle cx="453.7" cy="642.46" r="2.3" fill="#000"/>
<circle cx="456.9" cy="642.98" r="2.3" fill="#000"/>
<circle cx="460.1" cy="642.72" r="2.3" fill="#000"/>
<circle cx="464.9" cy="642.46" r="2.3" fill="#000"/>
<circle cx="468.1" cy="642.98" r="2.3" fill="#000"/>
<circle cx="471.3" cy="642.72" r="2.3" fill="#000"/>
<rect x="499.55" y="638.59" width="10.3" height="30.21" fill="#5F615F" stroke="#000" stroke-width="1.7"/>
<rect x="511.55" y="637.04" width="9.2" height="31.76" fill="#E2B274" stroke="#000" stroke-width="1.7"/>
<line x1="510.7" y1="638.59" x2="510.7" y2="668.8" stroke="#000" stroke-width="2.2"/>
<circle cx="501.5" cy="637.82" r="2.3" fill="#000"/>
<circle cx="504.7" cy="638.59" r="2.3" fill="#000"/>
<circle cx="507.9" cy="639.11" r="2.3" fill="#000"/>
<circle cx="512.95" cy="635.23" r="2.3" fill="#000"/>
<circle cx="516.15" cy="637.04" r="2.3" fill="#000"/>
<circle cx="519.35" cy="637.82" r="2.3" fill="#000"/>
<rect x="547.25" y="577.4" width="10" height="91.4" fill="#5F615F" stroke="#000" stroke-width="1.7"/>
<rect x="558.95" y="565.78" width="9.5" height="103.02" fill="#E2B274" stroke="#000" stroke-width="1.7"/>
<line x1="558.1" y1="577.4" x2="558.1" y2="668.8" stroke="#000" stroke-width="2.2"/>
<line x1="552.25" y1="571.92" x2="552.25" y2="582.87" stroke="#000" stroke-width="1"/>
<line x1="549.75" y1="571.92" x2="554.75" y2="571.92" stroke="#000" stroke-width="1"/>
<circle cx="549.05" cy="581.01" r="2.3" fill="#000"/>
<circle cx="552.25" cy="568.62" r="2.3" fill="#000"/>
<circle cx="555.45" cy="582.3" r="2.3" fill="#000"/>
<line x1="563.7" y1="562.89" x2="563.7" y2="568.67" stroke="#000" stroke-width="1"/>
<line x1="561.2" y1="562.89" x2="566.2" y2="562.89" stroke="#000" stroke-width="1"/>
<circle cx="560.5" cy="566.81" r="2.3" fill="#000"/>
<circle cx="563.7" cy="560.87" r="2.3" fill="#000"/>
<circle cx="566.9" cy="568.1" r="2.3" fill="#000"/>
<rect x="577.25" y="597.54" width="9.5" height="71.26" fill="#5F615F" stroke="#000" stroke-width="1.7"/>
<rect x="588.45" y="586.18" width="9.6" height="82.62" fill="#E2B274" stroke="#000" stroke-width="1.7"/>
<line x1="587.6" y1="597.54" x2="587.6" y2="668.8" stroke="#000" stroke-width="2.2"/>
<line x1="582" y1="595.06" x2="582" y2="600.02" stroke="#000" stroke-width="1"/>
<line x1="579.5" y1="595.06" x2="584.5" y2="595.06" stroke="#000" stroke-width="1"/>
<circle cx="578.8" cy="592.89" r="2.3" fill="#000"/>
<circle cx="582" cy="598.57" r="2.3" fill="#000"/>
<circle cx="585.2" cy="599.09" r="2.3" fill="#000"/>
<line x1="593.25" y1="580.81" x2="593.25" y2="591.55" stroke="#000" stroke-width="1"/>
<line x1="590.75" y1="580.81" x2="595.75" y2="580.81" stroke="#000" stroke-width="1"/>
<circle cx="590.05" cy="579.98" r="2.3" fill="#000"/>
<circle cx="593.25" cy="584.88" r="2.3" fill="#000"/>
<circle cx="596.45" cy="593.41" r="2.3" fill="#000"/>
<rect x="606.95" y="613.29" width="9.2" height="55.51" fill="#5F615F" stroke="#000" stroke-width="1.7"/>
<rect x="617.85" y="600.12" width="10.4" height="68.68" fill="#E2B274" stroke="#000" stroke-width="1.7"/>
<line x1="617" y1="613.29" x2="617" y2="668.8" stroke="#000" stroke-width="2.2"/>
<circle cx="608.35" cy="614.06" r="2.3" fill="#000"/>
<circle cx="611.55" cy="612" r="2.3" fill="#000"/>
<circle cx="614.75" cy="613.29" r="2.3" fill="#000"/>
<circle cx="619.85" cy="601.15" r="2.3" fill="#000"/>
<circle cx="623.05" cy="598.57" r="2.3" fill="#000"/>
<circle cx="626.25" cy="600.12" r="2.3" fill="#000"/>
<rect x="636.35" y="626.46" width="9.2" height="42.34" fill="#5F615F" stroke="#000" stroke-width="1.7"/>
<rect x="647.25" y="617.16" width="10.5" height="51.64" fill="#E2B274" stroke="#000" stroke-width="1.7"/>
<line x1="646.4" y1="626.46" x2="646.4" y2="668.8" stroke="#000" stroke-width="2.2"/>
<line x1="640.95" y1="623.77" x2="640.95" y2="629.14" stroke="#000" stroke-width="1"/>
<line x1="638.45" y1="623.77" x2="643.45" y2="623.77" stroke="#000" stroke-width="1"/>
<circle cx="637.75" cy="622.07" r="2.3" fill="#000"/>
<circle cx="640.95" cy="627.49" r="2.3" fill="#000"/>
<circle cx="644.15" cy="628.78" r="2.3" fill="#000"/>
<line x1="652.5" y1="615.09" x2="652.5" y2="619.23" stroke="#000" stroke-width="1"/>
<line x1="650" y1="615.09" x2="655" y2="615.09" stroke="#000" stroke-width="1"/>
<circle cx="649.3" cy="613.29" r="2.3" fill="#000"/>
<circle cx="652.5" cy="617.68" r="2.3" fill="#000"/>
<circle cx="655.7" cy="618.45" r="2.3" fill="#000"/>
<line x1="438.9" y1="539.7" x2="438.9" y2="669.55" stroke="#000" stroke-width="1.8"/>
<line x1="432.4" y1="668.8" x2="665.4" y2="668.8" stroke="#000" stroke-width="1.8"/>
<line x1="432.4" y1="668.8" x2="438.9" y2="668.8" stroke="#000" stroke-width="1.8"/>
<text x="430.6" y="672.2" font-size="9.8" text-anchor="end" fill="#111">0</text>
<line x1="435.4" y1="655.89" x2="438.9" y2="655.89" stroke="#000" stroke-width="1.8"/>
<line x1="432.4" y1="642.98" x2="438.9" y2="642.98" stroke="#000" stroke-width="1.8"/>
<text x="430.6" y="646.38" font-size="9.8" text-anchor="end" fill="#111">1</text>
<line x1="435.4" y1="630.07" x2="438.9" y2="630.07" stroke="#000" stroke-width="1.8"/>
<line x1="432.4" y1="617.16" x2="438.9" y2="617.16" stroke="#000" stroke-width="1.8"/>
<text x="430.6" y="620.56" font-size="9.8" text-anchor="end" fill="#111">2</text>
<line x1="435.4" y1="604.25" x2="438.9" y2="604.25" stroke="#000" stroke-width="1.8"/>
<line x1="432.4" y1="591.34" x2="438.9" y2="591.34" stroke="#000" stroke-width="1.8"/>
<text x="430.6" y="594.74" font-size="9.8" text-anchor="end" fill="#111">3</text>
<line x1="435.4" y1="578.43" x2="438.9" y2="578.43" stroke="#000" stroke-width="1.8"/>
<line x1="432.4" y1="565.52" x2="438.9" y2="565.52" stroke="#000" stroke-width="1.8"/>
<text x="430.6" y="568.92" font-size="9.8" text-anchor="end" fill="#111">4</text>
<line x1="435.4" y1="552.61" x2="438.9" y2="552.61" stroke="#000" stroke-width="1.8"/>
<line x1="432.4" y1="539.7" x2="438.9" y2="539.7" stroke="#000" stroke-width="1.8"/>
<text x="430.6" y="543.1" font-size="9.8" text-anchor="end" fill="#111">5</text>
<text transform="translate(419.3,604.25) rotate(-90)" font-size="12.65" text-anchor="middle" fill="#111">Kill Index</text>
<polyline fill="none" stroke="#000" stroke-width="1.5" points="504.5,627.2 504.5,618 516.2,618 516.2,627.2"/>
<text x="510.3" y="611" font-size="10.3" text-anchor="middle" fill="#111">0.9734</text>
<polyline fill="none" stroke="#000" stroke-width="1.5" points="551.8,551.9 551.8,543.9 563.9,543.9 563.9,551.9"/>
<text x="558" y="536.6" font-size="10.3" text-anchor="middle" fill="#111">0.0065</text>
<polyline fill="none" stroke="#000" stroke-width="1.5" points="581.8,562 581.8,552.7 594.3,552.7 594.3,562"/>
<text x="587.6" y="546" font-size="10.3" text-anchor="middle" fill="#111">0.0073</text>
<polyline fill="none" stroke="#000" stroke-width="1.5" points="611.6,572.4 611.6,563.3 623.7,563.3 623.7,572.4"/>
<text x="617.5" y="556.1" font-size="10.3" text-anchor="middle" fill="#111">0.0014</text>
<polyline fill="none" stroke="#000" stroke-width="1.5" points="641.4,583 641.4,574 653.4,574 653.4,583"/>
<text x="647.1" y="566.7" font-size="10.3" text-anchor="middle" fill="#111">0.0201</text>
<text x="437.5" y="680.7" font-size="10.2" text-anchor="middle" fill="#111">E:T</text>
<text x="462.6" y="680.7" font-size="10.2" text-anchor="middle" fill="#111">0:1</text>
<text x="510" y="680.7" font-size="10.2" text-anchor="middle" fill="#111">1:1</text>
<text x="557.9" y="680.7" font-size="10.2" text-anchor="middle" fill="#111">1:2</text>
<text x="588" y="680.7" font-size="10.2" text-anchor="middle" fill="#111">1:4</text>
<text x="617.8" y="680.7" font-size="10.2" text-anchor="middle" fill="#111">1:8</text>
<text x="647.5" y="680.7" font-size="10.2" text-anchor="middle" fill="#111">1:16</text>
<line x1="484.4" y1="686.4" x2="535.8" y2="686.4" stroke="#000" stroke-width="1.5"/>
<text x="509.6" y="697.9" font-size="10.55" text-anchor="middle" font-weight="bold" fill="#111">NTD</text>
<text x="509.6" y="710.7" font-size="10.55" text-anchor="middle" font-weight="bold" fill="#111">T Cells</text>
<line x1="545" y1="686.4" x2="666" y2="686.4" stroke="#000" stroke-width="1.5"/>
<text x="603.5" y="697.9" font-size="10.55" text-anchor="middle" font-weight="bold" fill="#111">NECTIN4 CAR</text>
<text x="603.5" y="710.7" font-size="10.55" text-anchor="middle" font-weight="bold" fill="#111">T Cells</text>
<line x1="74.7" y1="753.3" x2="74.7" y2="890.55" stroke="#000" stroke-width="1.5"/>
<line x1="73.95" y1="889.8" x2="211.6" y2="889.8" stroke="#000" stroke-width="1.5"/>
<line x1="69.2" y1="882.2" x2="74.7" y2="882.2" stroke="#000" stroke-width="1.5"/>
<text x="67" y="885.7" font-size="10.2" text-anchor="end" fill="#111">0</text>
<line x1="71.7" y1="866.09" x2="74.7" y2="866.09" stroke="#000" stroke-width="1.5"/>
<line x1="69.2" y1="849.98" x2="74.7" y2="849.98" stroke="#000" stroke-width="1.5"/>
<text x="67" y="853.48" font-size="10.2" text-anchor="end" fill="#111">400</text>
<line x1="71.7" y1="833.86" x2="74.7" y2="833.86" stroke="#000" stroke-width="1.5"/>
<line x1="69.2" y1="817.75" x2="74.7" y2="817.75" stroke="#000" stroke-width="1.5"/>
<text x="67" y="821.25" font-size="10.2" text-anchor="end" fill="#111">800</text>
<line x1="71.7" y1="801.64" x2="74.7" y2="801.64" stroke="#000" stroke-width="1.5"/>
<line x1="69.2" y1="785.52" x2="74.7" y2="785.52" stroke="#000" stroke-width="1.5"/>
<text x="67" y="789.02" font-size="10.2" text-anchor="end" fill="#111">1200</text>
<line x1="71.7" y1="769.41" x2="74.7" y2="769.41" stroke="#000" stroke-width="1.5"/>
<line x1="69.2" y1="753.3" x2="74.7" y2="753.3" stroke="#000" stroke-width="1.5"/>
<text x="67" y="756.8" font-size="10.2" text-anchor="end" fill="#111">1600</text>
<text transform="translate(37,821.55) rotate(-90)" font-size="10.9" text-anchor="middle" fill="#111">IFN-γ (pg/ml)</text>
<line x1="85.1" y1="884.21" x2="107.1" y2="884.21" stroke="#000" stroke-width="1.3"/>
<circle cx="87.2" cy="884.21" r="2.25" fill="#000"/>
<circle cx="93.4" cy="884.21" r="2.25" fill="#000"/>
<circle cx="99.2" cy="884.21" r="2.25" fill="#000"/>
<circle cx="105" cy="884.21" r="2.25" fill="#000"/>
<line x1="110" y1="884.46" x2="132" y2="884.46" stroke="#000" stroke-width="1.3"/>
<circle cx="112" cy="884.62" r="2.25" fill="#E4B26C"/>
<circle cx="118.2" cy="884.21" r="2.25" fill="#E4B26C"/>
<circle cx="124" cy="884.46" r="2.25" fill="#E4B26C"/>
<circle cx="129.9" cy="884.46" r="2.25" fill="#E4B26C"/>
<line x1="153.5" y1="839.02" x2="175.5" y2="839.02" stroke="#000" stroke-width="1.3"/>
<line x1="158.7" y1="836.2" x2="170.3" y2="836.2" stroke="#3a3a3a" stroke-width="1.3"/>
<line x1="158.7" y1="841.84" x2="170.3" y2="841.84" stroke="#3a3a3a" stroke-width="1.3"/>
<line x1="164.5" y1="836.2" x2="164.5" y2="841.84" stroke="#3a3a3a" stroke-width="1.1"/>
<circle cx="160.6" cy="836.28" r="2.25" fill="#000"/>
<circle cx="168.8" cy="833.06" r="2.25" fill="#000"/>
<circle cx="168.3" cy="839.02" r="2.25" fill="#000"/>
<circle cx="164.3" cy="846.75" r="2.25" fill="#000"/>
<line x1="178.1" y1="787.46" x2="200.1" y2="787.46" stroke="#000" stroke-width="1.3"/>
<line x1="183.3" y1="785.04" x2="194.9" y2="785.04" stroke="#A8A38F" stroke-width="1.6"/>
<line x1="183.3" y1="789.88" x2="194.9" y2="789.88" stroke="#A8A38F" stroke-width="1.6"/>
<line x1="189.1" y1="785.04" x2="189.1" y2="789.88" stroke="#A8A38F" stroke-width="1.1"/>
<circle cx="180.1" cy="783.11" r="2.25" fill="#E4B26C"/>
<circle cx="189.1" cy="787.46" r="2.25" fill="#E4B26C"/>
<circle cx="197.9" cy="784.56" r="2.25" fill="#E4B26C"/>
<circle cx="189.1" cy="794.63" r="2.25" fill="#E4B26C"/>
<polyline fill="none" stroke="#333" stroke-width="1.1" points="96.3,873.8 96.3,865.8 120.8,865.8 120.8,873.8"/>
<text x="108.7" y="858" font-size="10.4" text-anchor="middle" fill="#111">0.9786</text>
<polyline fill="none" stroke="#333" stroke-width="1.1" points="164.3,775.5 164.3,766.7 189.4,766.7 189.4,775.5"/>
<text x="176.9" y="759.7" font-size="10.4" text-anchor="middle" fill="#111">&lt;0.0001</text>
<text x="108.7" y="902.6" font-size="10.8" text-anchor="middle" font-weight="bold" fill="#111">NTD</text>
<text x="108.7" y="916.1" font-size="10.8" text-anchor="middle" font-weight="bold" fill="#111">T Cells</text>
<text x="177" y="902.8" font-size="10.8" text-anchor="middle" font-weight="bold" fill="#111">NECTIN4 CAR</text>
<text x="177" y="916.2" font-size="10.8" text-anchor="middle" font-weight="bold" fill="#111">T Cells</text>
<circle cx="230.7" cy="758.4" r="1.9" fill="#000"/>
<circle cx="230.7" cy="777.8" r="1.9" fill="#E4B26C"/>
<text x="245.8" y="762.2" font-size="11" text-anchor="start" fill="#111">RT112 + DMSO</text>
<text x="245.8" y="781.4" font-size="11" text-anchor="start" fill="#111">RT112 + Rosi</text>
<line x1="413.7" y1="758.2" x2="413.7" y2="891.75" stroke="#000" stroke-width="1.5"/>
<line x1="412.95" y1="891" x2="547.6" y2="891" stroke="#000" stroke-width="1.5"/>
<line x1="408.2" y1="881.6" x2="413.7" y2="881.6" stroke="#000" stroke-width="1.5"/>
<text x="406" y="885.1" font-size="10.2" text-anchor="end" fill="#111">0</text>
<line x1="410.7" y1="869.26" x2="413.7" y2="869.26" stroke="#000" stroke-width="1.5"/>
<line x1="408.2" y1="856.92" x2="413.7" y2="856.92" stroke="#000" stroke-width="1.5"/>
<text x="406" y="860.42" font-size="10.2" text-anchor="end" fill="#111">100</text>
<line x1="410.7" y1="844.58" x2="413.7" y2="844.58" stroke="#000" stroke-width="1.5"/>
<line x1="408.2" y1="832.24" x2="413.7" y2="832.24" stroke="#000" stroke-width="1.5"/>
<text x="406" y="835.74" font-size="10.2" text-anchor="end" fill="#111">200</text>
<line x1="410.7" y1="819.9" x2="413.7" y2="819.9" stroke="#000" stroke-width="1.5"/>
<line x1="408.2" y1="807.56" x2="413.7" y2="807.56" stroke="#000" stroke-width="1.5"/>
<text x="406" y="811.06" font-size="10.2" text-anchor="end" fill="#111">300</text>
<line x1="410.7" y1="795.22" x2="413.7" y2="795.22" stroke="#000" stroke-width="1.5"/>
<line x1="408.2" y1="782.88" x2="413.7" y2="782.88" stroke="#000" stroke-width="1.5"/>
<text x="406" y="786.38" font-size="10.2" text-anchor="end" fill="#111">400</text>
<line x1="410.7" y1="770.54" x2="413.7" y2="770.54" stroke="#000" stroke-width="1.5"/>
<line x1="408.2" y1="758.2" x2="413.7" y2="758.2" stroke="#000" stroke-width="1.5"/>
<text x="406" y="761.7" font-size="10.2" text-anchor="end" fill="#111">500</text>
<text transform="translate(383.2,824.6) rotate(-90)" font-size="10.9" text-anchor="middle" fill="#111">IFN-γ (pg/ml)</text>
<line x1="424" y1="883.33" x2="446" y2="883.33" stroke="#000" stroke-width="1.3"/>
<line x1="429.2" y1="882.34" x2="440.8" y2="882.34" stroke="#3a3a3a" stroke-width="1.3"/>
<line x1="429.2" y1="884.31" x2="440.8" y2="884.31" stroke="#3a3a3a" stroke-width="1.3"/>
<line x1="435" y1="882.34" x2="435" y2="884.31" stroke="#3a3a3a" stroke-width="1.1"/>
<circle cx="426" cy="881.85" r="2.25" fill="#000"/>
<circle cx="426" cy="886.54" r="2.25" fill="#000"/>
<circle cx="435.5" cy="883.57" r="2.25" fill="#000"/>
<circle cx="443.6" cy="884.07" r="2.25" fill="#000"/>
<line x1="447.9" y1="881.6" x2="469.9" y2="881.6" stroke="#000" stroke-width="1.3"/>
<line x1="453.1" y1="878.39" x2="464.7" y2="878.39" stroke="#A8A38F" stroke-width="1.6"/>
<line x1="453.1" y1="884.81" x2="464.7" y2="884.81" stroke="#A8A38F" stroke-width="1.6"/>
<line x1="458.9" y1="878.39" x2="458.9" y2="884.81" stroke="#A8A38F" stroke-width="1.1"/>
<circle cx="458.9" cy="872.22" r="2.25" fill="#E4B26C"/>
<circle cx="458.9" cy="880.37" r="2.25" fill="#E4B26C"/>
<circle cx="455" cy="886.78" r="2.25" fill="#E4B26C"/>
<circle cx="462.8" cy="886.78" r="2.25" fill="#E4B26C"/>
<line x1="490.7" y1="849.76" x2="512.7" y2="849.76" stroke="#000" stroke-width="1.3"/>
<line x1="495.9" y1="847.29" x2="507.5" y2="847.29" stroke="#3a3a3a" stroke-width="1.3"/>
<line x1="495.9" y1="852.23" x2="507.5" y2="852.23" stroke="#3a3a3a" stroke-width="1.3"/>
<line x1="501.7" y1="847.29" x2="501.7" y2="852.23" stroke="#3a3a3a" stroke-width="1.1"/>
<circle cx="497.5" cy="846.31" r="2.25" fill="#000"/>
<circle cx="506" cy="844.33" r="2.25" fill="#000"/>
<circle cx="506" cy="850.26" r="2.25" fill="#000"/>
<circle cx="501.6" cy="857.17" r="2.25" fill="#000"/>
<line x1="514.8" y1="806.94" x2="536.8" y2="806.94" stroke="#000" stroke-width="1.3"/>
<line x1="520" y1="804.72" x2="531.6" y2="804.72" stroke="#A8A38F" stroke-width="1.6"/>
<line x1="520" y1="809.16" x2="531.6" y2="809.16" stroke="#A8A38F" stroke-width="1.6"/>
<line x1="525.8" y1="804.72" x2="525.8" y2="809.16" stroke="#A8A38F" stroke-width="1.1"/>
<circle cx="516.8" cy="804.85" r="2.25" fill="#E4B26C"/>
<circle cx="525.5" cy="806.57" r="2.25" fill="#E4B26C"/>
<circle cx="534.3" cy="805.83" r="2.25" fill="#E4B26C"/>
<circle cx="525.5" cy="812.5" r="2.25" fill="#E4B26C"/>
<polyline fill="none" stroke="#111" stroke-width="1.5" points="434.8,854.3 434.8,846 459.2,846 459.2,854.3"/>
<text x="447.2" y="838.7" font-size="10.4" text-anchor="middle" fill="#111">0.9989</text>
<polyline fill="none" stroke="#111" stroke-width="1.5" points="501.5,791.4 501.5,782.9 526,782.9 526,791.4"/>
<text x="513.4" y="775.3" font-size="10.4" text-anchor="middle" fill="#111">&lt;0.0001</text>
<text x="447" y="903.9" font-size="10.8" text-anchor="middle" font-weight="bold" fill="#111">NTD</text>
<text x="447" y="917.1" font-size="10.8" text-anchor="middle" font-weight="bold" fill="#111">T Cells</text>
<text x="513.6" y="903.5" font-size="10.8" text-anchor="middle" font-weight="bold" fill="#111">NECTIN4 CAR</text>
<text x="513.6" y="917" font-size="10.8" text-anchor="middle" font-weight="bold" fill="#111">T Cells</text>
<circle cx="567.1" cy="762.2" r="1.9" fill="#000"/>
<circle cx="567.1" cy="781.6" r="1.9" fill="#E4B26C"/>
<text x="582" y="766" font-size="11" text-anchor="start" fill="#111">UMUC-1 + DMSO</text>
<text x="582" y="785.2" font-size="11" text-anchor="start" fill="#111">UMUC-1 + Rosi</text>
</svg>
</body></html>
